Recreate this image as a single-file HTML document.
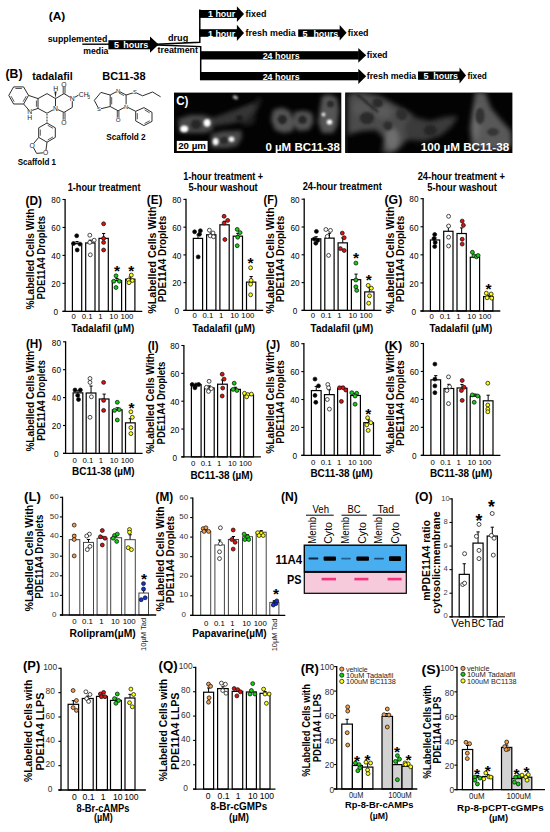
<!DOCTYPE html><html><head><meta charset="utf-8"><style>html,body{margin:0;padding:0;background:#fff;}svg{display:block;font-family:"Liberation Sans", sans-serif;}</style></head><body><svg width="550" height="832" viewBox="0 0 550 832"><rect width="550" height="832" fill="#fff"/><text x="48.70" y="19.60" font-size="11.5" font-weight="bold" fill="#000" textLength="16.60" lengthAdjust="spacingAndGlyphs">(A)</text>
<text x="47.70" y="41.90" font-size="9" font-weight="bold" fill="#000" textLength="59.70" lengthAdjust="spacingAndGlyphs">supplemented</text>
<text x="83.30" y="54.30" font-size="9" font-weight="bold" fill="#000" textLength="25.10" lengthAdjust="spacingAndGlyphs">media</text>
<line x1="82.30" y1="44.20" x2="109.00" y2="44.20" stroke="#000" stroke-width="1.4"/>
<rect x="108.40" y="40.20" width="42.10" height="9.10" fill="#000"/>
<polygon points="150.00,36.40 158.60,44.55 150.00,52.70" fill="#000"/>
<text x="114.00" y="48.20" font-size="9" font-weight="bold" fill="#fff" text-anchor="start">5</text>
<text x="123.20" y="48.20" font-size="9" font-weight="bold" fill="#fff" textLength="25.00" lengthAdjust="spacingAndGlyphs">hours</text>
<polyline points="156.5,44.3 199.8,42.3 199.8,9.5" fill="none" stroke="#000" stroke-width="1.5"/>
<polyline points="156.5,44.9 200.7,46.6 200.7,80.0" fill="none" stroke="#000" stroke-width="1.5"/>
<text x="168.00" y="40.90" font-size="9" font-weight="bold" fill="#000" textLength="20.20" lengthAdjust="spacingAndGlyphs">drug</text>
<text x="157.60" y="53.10" font-size="9" font-weight="bold" fill="#000" textLength="40.40" lengthAdjust="spacingAndGlyphs">treatment</text>
<rect x="199.20" y="10.00" width="38.20" height="7.90" fill="#000"/>
<polygon points="236.90,6.20 244.00,14.05 236.90,21.90" fill="#000"/>
<text x="208.00" y="17.40" font-size="9" font-weight="bold" fill="#fff" textLength="27.20" lengthAdjust="spacingAndGlyphs">1 hour</text>
<text x="245.60" y="17.00" font-size="9" font-weight="bold" fill="#000" textLength="20.80" lengthAdjust="spacingAndGlyphs">fixed</text>
<rect x="199.20" y="29.20" width="38.20" height="7.60" fill="#000"/>
<polygon points="236.90,24.80 244.00,32.95 236.90,41.10" fill="#000"/>
<text x="208.00" y="36.50" font-size="9" font-weight="bold" fill="#fff" textLength="27.20" lengthAdjust="spacingAndGlyphs">1 hour</text>
<text x="245.60" y="36.20" font-size="9" font-weight="bold" fill="#000" textLength="50.20" lengthAdjust="spacingAndGlyphs">fresh media</text>
<rect x="298.20" y="29.40" width="42.00" height="7.40" fill="#000"/>
<polygon points="339.70,25.10 346.60,32.75 339.70,40.40" fill="#000"/>
<text x="302.40" y="36.50" font-size="9" font-weight="bold" fill="#fff" text-anchor="start">5</text>
<text x="313.40" y="36.50" font-size="9" font-weight="bold" fill="#fff" textLength="24.80" lengthAdjust="spacingAndGlyphs">hours</text>
<text x="347.80" y="36.20" font-size="9" font-weight="bold" fill="#000" textLength="20.70" lengthAdjust="spacingAndGlyphs">fixed</text>
<rect x="200.00" y="51.20" width="158.80" height="8.30" fill="#000"/>
<polygon points="358.30,48.00 366.20,55.35 358.30,62.70" fill="#000"/>
<text x="262.70" y="58.70" font-size="9" font-weight="bold" fill="#fff" textLength="36.90" lengthAdjust="spacingAndGlyphs">24 hours</text>
<text x="366.70" y="58.40" font-size="9" font-weight="bold" fill="#000" textLength="20.90" lengthAdjust="spacingAndGlyphs">fixed</text>
<rect x="200.00" y="72.00" width="158.80" height="8.30" fill="#000"/>
<polygon points="358.30,68.70 366.20,76.35 358.30,84.00" fill="#000"/>
<text x="262.70" y="79.60" font-size="9" font-weight="bold" fill="#fff" textLength="36.90" lengthAdjust="spacingAndGlyphs">24 hours</text>
<text x="366.70" y="79.20" font-size="9" font-weight="bold" fill="#000" textLength="49.60" lengthAdjust="spacingAndGlyphs">fresh media</text>
<rect x="418.00" y="71.50" width="42.00" height="8.30" fill="#000"/>
<polygon points="459.50,67.50 466.00,75.50 459.50,83.50" fill="#000"/>
<text x="423.60" y="79.00" font-size="9" font-weight="bold" fill="#fff" text-anchor="start">5</text>
<text x="433.30" y="79.00" font-size="9" font-weight="bold" fill="#fff" textLength="24.70" lengthAdjust="spacingAndGlyphs">hours</text>
<text x="467.50" y="79.00" font-size="9" font-weight="bold" fill="#000" textLength="19.30" lengthAdjust="spacingAndGlyphs">fixed</text>
<text x="5.50" y="78.00" font-size="12" font-weight="bold" fill="#000" textLength="17.00" lengthAdjust="spacingAndGlyphs">(B)</text>
<text x="32.30" y="79.50" font-size="10.5" font-weight="bold" fill="#000" textLength="40.40" lengthAdjust="spacingAndGlyphs">tadalafil</text>
<text x="102.20" y="80.00" font-size="10.5" font-weight="bold" fill="#000" textLength="43.40" lengthAdjust="spacingAndGlyphs">BC11-38</text>
<text x="17.70" y="165.30" font-size="9" font-weight="bold" fill="#000" textLength="38.30" lengthAdjust="spacingAndGlyphs">Scaffold 1</text>
<text x="106.30" y="140.40" font-size="8.8" font-weight="bold" fill="#000" textLength="39.30" lengthAdjust="spacingAndGlyphs">Scaffold 2</text>
<line x1="13.60" y1="86.90" x2="23.60" y2="86.90" stroke="#222222" stroke-width="0.95"/>
<line x1="23.60" y1="86.90" x2="28.50" y2="95.40" stroke="#222222" stroke-width="0.95"/>
<line x1="28.50" y1="95.40" x2="23.60" y2="104.00" stroke="#222222" stroke-width="0.95"/>
<line x1="23.60" y1="104.00" x2="13.60" y2="104.00" stroke="#222222" stroke-width="0.95"/>
<line x1="13.60" y1="104.00" x2="8.80" y2="95.40" stroke="#222222" stroke-width="0.95"/>
<line x1="8.80" y1="95.40" x2="13.60" y2="86.90" stroke="#222222" stroke-width="0.95"/>
<line x1="15.40" y1="88.50" x2="21.80" y2="88.50" stroke="#222222" stroke-width="0.75"/>
<line x1="26.23" y1="96.15" x2="23.10" y2="101.65" stroke="#222222" stroke-width="0.75"/>
<line x1="14.12" y1="101.65" x2="11.05" y2="96.14" stroke="#222222" stroke-width="0.75"/>
<line x1="28.50" y1="95.40" x2="38.00" y2="98.60" stroke="#222222" stroke-width="0.95"/>
<line x1="38.00" y1="98.60" x2="38.00" y2="108.40" stroke="#222222" stroke-width="0.95"/>
<line x1="38.00" y1="108.40" x2="29.80" y2="111.20" stroke="#222222" stroke-width="0.95"/>
<line x1="29.80" y1="111.20" x2="23.60" y2="104.00" stroke="#222222" stroke-width="0.95"/>
<line x1="36.41" y1="100.52" x2="36.41" y2="106.80" stroke="#222222" stroke-width="0.75"/>
<line x1="38.00" y1="98.60" x2="47.00" y2="93.60" stroke="#222222" stroke-width="0.95"/>
<line x1="47.00" y1="93.60" x2="55.50" y2="98.60" stroke="#222222" stroke-width="0.95"/>
<line x1="55.50" y1="98.60" x2="55.50" y2="108.50" stroke="#222222" stroke-width="0.95"/>
<line x1="55.50" y1="108.50" x2="47.00" y2="113.20" stroke="#222222" stroke-width="0.95"/>
<line x1="47.00" y1="113.20" x2="38.00" y2="108.40" stroke="#222222" stroke-width="0.95"/>
<polygon points="55.50,98.60 54.40,91.50 56.60,91.50" fill="#222222"/>
<line x1="55.50" y1="98.60" x2="64.00" y2="93.60" stroke="#222222" stroke-width="0.95"/>
<line x1="64.00" y1="93.60" x2="72.30" y2="98.60" stroke="#222222" stroke-width="0.95"/>
<line x1="72.30" y1="98.60" x2="72.30" y2="107.40" stroke="#222222" stroke-width="0.95"/>
<line x1="72.30" y1="107.40" x2="64.00" y2="112.40" stroke="#222222" stroke-width="0.95"/>
<line x1="64.00" y1="112.40" x2="55.50" y2="108.50" stroke="#222222" stroke-width="0.95"/>
<line x1="63.20" y1="93.60" x2="63.20" y2="85.50" stroke="#222222" stroke-width="0.85"/>
<line x1="65.00" y1="93.60" x2="65.00" y2="85.50" stroke="#222222" stroke-width="0.85"/>
<line x1="63.20" y1="112.40" x2="63.20" y2="120.50" stroke="#222222" stroke-width="0.85"/>
<line x1="65.00" y1="112.40" x2="65.00" y2="120.50" stroke="#222222" stroke-width="0.85"/>
<line x1="72.30" y1="98.60" x2="78.50" y2="95.20" stroke="#222222" stroke-width="0.95"/>
<line x1="46.30" y1="114.50" x2="47.70" y2="114.50" stroke="#222222" stroke-width="0.7"/>
<line x1="46.30" y1="116.00" x2="47.70" y2="116.00" stroke="#222222" stroke-width="0.7"/>
<line x1="46.30" y1="117.50" x2="47.70" y2="117.50" stroke="#222222" stroke-width="0.7"/>
<line x1="46.30" y1="119.00" x2="47.70" y2="119.00" stroke="#222222" stroke-width="0.7"/>
<line x1="46.30" y1="120.50" x2="47.70" y2="120.50" stroke="#222222" stroke-width="0.7"/>
<line x1="46.30" y1="122.00" x2="47.70" y2="122.00" stroke="#222222" stroke-width="0.7"/>
<line x1="47.00" y1="123.00" x2="55.30" y2="127.80" stroke="#222222" stroke-width="0.95"/>
<line x1="55.30" y1="127.80" x2="55.30" y2="137.40" stroke="#222222" stroke-width="0.95"/>
<line x1="55.30" y1="137.40" x2="47.00" y2="142.20" stroke="#222222" stroke-width="0.95"/>
<line x1="47.00" y1="142.20" x2="38.70" y2="137.40" stroke="#222222" stroke-width="0.95"/>
<line x1="38.70" y1="137.40" x2="38.70" y2="127.80" stroke="#222222" stroke-width="0.95"/>
<line x1="38.70" y1="127.80" x2="47.00" y2="123.00" stroke="#222222" stroke-width="0.95"/>
<line x1="47.69" y1="125.25" x2="53.01" y2="128.32" stroke="#222222" stroke-width="0.75"/>
<line x1="53.01" y1="136.88" x2="47.69" y2="139.95" stroke="#222222" stroke-width="0.75"/>
<line x1="40.30" y1="135.67" x2="40.30" y2="129.53" stroke="#222222" stroke-width="0.75"/>
<line x1="38.70" y1="137.40" x2="32.20" y2="145.20" stroke="#222222" stroke-width="0.95"/>
<line x1="47.00" y1="142.20" x2="45.60" y2="152.60" stroke="#222222" stroke-width="0.95"/>
<line x1="32.20" y1="145.20" x2="36.60" y2="153.40" stroke="#222222" stroke-width="0.95"/>
<line x1="36.60" y1="153.40" x2="45.60" y2="152.60" stroke="#222222" stroke-width="0.95"/>
<circle cx="29.80" cy="111.40" r="2.6" fill="#fff"/>
<text x="29.80" y="113.85" font-size="6.8" fill="#222222" text-anchor="middle">N</text>
<text x="29.6" y="120.0" font-size="6.8" fill="#222222" text-anchor="middle">H</text>
<circle cx="55.50" cy="108.60" r="2.6" fill="#fff"/>
<text x="55.50" y="111.05" font-size="6.8" fill="#222222" text-anchor="middle">N</text>
<circle cx="72.30" cy="98.60" r="2.6" fill="#fff"/>
<text x="72.30" y="101.05" font-size="6.8" fill="#222222" text-anchor="middle">N</text>
<text x="55.8" y="91.0" font-size="6.8" fill="#222222" text-anchor="middle">H</text>
<circle cx="64.00" cy="84.20" r="2.6" fill="#fff"/>
<text x="64.00" y="86.65" font-size="6.8" fill="#222222" text-anchor="middle">O</text>
<circle cx="64.00" cy="122.20" r="2.6" fill="#fff"/>
<text x="64.00" y="124.65" font-size="6.8" fill="#222222" text-anchor="middle">O</text>
<circle cx="32.20" cy="145.20" r="2.6" fill="#fff"/>
<text x="32.20" y="147.65" font-size="6.8" fill="#222222" text-anchor="middle">O</text>
<circle cx="45.60" cy="152.60" r="2.6" fill="#fff"/>
<text x="45.60" y="155.05" font-size="6.8" fill="#222222" text-anchor="middle">O</text>
<text x="78.8" y="97.2" font-size="6.8" fill="#222222">CH</text>
<text x="87.6" y="99.0" font-size="4.6" fill="#222222">3</text>
<line x1="100.90" y1="92.40" x2="94.30" y2="100.40" stroke="#222222" stroke-width="0.95"/>
<line x1="94.30" y1="100.40" x2="99.00" y2="109.20" stroke="#222222" stroke-width="0.95"/>
<line x1="99.00" y1="109.20" x2="110.20" y2="106.50" stroke="#222222" stroke-width="0.95"/>
<line x1="110.20" y1="106.50" x2="110.20" y2="95.00" stroke="#222222" stroke-width="0.95"/>
<line x1="110.20" y1="95.00" x2="100.90" y2="92.40" stroke="#222222" stroke-width="0.95"/>
<line x1="111.70" y1="97.08" x2="111.70" y2="104.44" stroke="#222222" stroke-width="0.75"/>
<line x1="110.20" y1="95.00" x2="118.10" y2="90.80" stroke="#222222" stroke-width="0.95"/>
<line x1="118.10" y1="90.80" x2="126.10" y2="95.00" stroke="#222222" stroke-width="0.95"/>
<line x1="126.10" y1="95.00" x2="126.10" y2="106.50" stroke="#222222" stroke-width="0.95"/>
<line x1="126.10" y1="106.50" x2="118.10" y2="110.80" stroke="#222222" stroke-width="0.95"/>
<line x1="118.10" y1="110.80" x2="110.20" y2="106.50" stroke="#222222" stroke-width="0.95"/>
<line x1="118.86" y1="92.89" x2="123.98" y2="95.58" stroke="#222222" stroke-width="0.75"/>
<line x1="117.30" y1="110.80" x2="117.30" y2="118.00" stroke="#222222" stroke-width="0.85"/>
<line x1="118.90" y1="110.80" x2="118.90" y2="118.00" stroke="#222222" stroke-width="0.85"/>
<line x1="126.10" y1="95.00" x2="135.00" y2="92.30" stroke="#222222" stroke-width="0.95"/>
<line x1="135.00" y1="92.30" x2="142.60" y2="95.80" stroke="#222222" stroke-width="0.95"/>
<line x1="142.60" y1="95.80" x2="152.60" y2="92.00" stroke="#222222" stroke-width="0.95"/>
<line x1="152.60" y1="92.00" x2="160.60" y2="96.80" stroke="#222222" stroke-width="0.95"/>
<line x1="126.10" y1="106.50" x2="135.70" y2="111.30" stroke="#222222" stroke-width="0.95"/>
<line x1="135.70" y1="111.30" x2="144.00" y2="107.60" stroke="#222222" stroke-width="0.95"/>
<line x1="144.00" y1="107.60" x2="152.00" y2="112.40" stroke="#222222" stroke-width="0.95"/>
<line x1="152.00" y1="112.40" x2="152.00" y2="121.40" stroke="#222222" stroke-width="0.95"/>
<line x1="152.00" y1="121.40" x2="143.90" y2="125.60" stroke="#222222" stroke-width="0.95"/>
<line x1="143.90" y1="125.60" x2="135.70" y2="120.90" stroke="#222222" stroke-width="0.95"/>
<line x1="135.70" y1="120.90" x2="135.70" y2="111.30" stroke="#222222" stroke-width="0.95"/>
<line x1="144.59" y1="109.82" x2="149.71" y2="112.89" stroke="#222222" stroke-width="0.75"/>
<line x1="149.74" y1="120.77" x2="144.56" y2="123.46" stroke="#222222" stroke-width="0.75"/>
<line x1="137.30" y1="119.25" x2="137.30" y2="113.11" stroke="#222222" stroke-width="0.75"/>
<circle cx="118.10" cy="90.80" r="2.2" fill="#fff"/>
<text x="118.10" y="92.89" font-size="5.8" fill="#222222" text-anchor="middle">N</text>
<circle cx="126.10" cy="106.50" r="2.2" fill="#fff"/>
<text x="126.10" y="108.59" font-size="5.8" fill="#222222" text-anchor="middle">N</text>
<circle cx="99.00" cy="109.20" r="2.2" fill="#fff"/>
<text x="99.00" y="111.29" font-size="5.8" fill="#222222" text-anchor="middle">S</text>
<circle cx="135.00" cy="92.30" r="2.2" fill="#fff"/>
<text x="135.00" y="94.39" font-size="5.8" fill="#222222" text-anchor="middle">S</text>
<circle cx="118.10" cy="119.80" r="2.3" fill="#fff"/>
<text x="118.10" y="122.03" font-size="6.2" fill="#222222" text-anchor="middle">O</text>
<defs><clipPath id="c1"><rect x="174.0" y="92.6" width="167.3" height="60.4"/></clipPath><clipPath id="c2"><rect x="345.2" y="92.6" width="167.2" height="60.4"/></clipPath><filter id="b4" x="-50%" y="-50%" width="200%" height="200%"><feGaussianBlur stdDeviation="2.6"/></filter><filter id="b3" x="-50%" y="-50%" width="200%" height="200%"><feGaussianBlur stdDeviation="2.1"/></filter><filter id="b2" x="-50%" y="-50%" width="200%" height="200%"><feGaussianBlur stdDeviation="1.3"/></filter><filter id="b1" x="-50%" y="-50%" width="200%" height="200%"><feGaussianBlur stdDeviation="0.9"/></filter></defs>
<rect x="174.00" y="92.60" width="167.30" height="60.40" fill="#030303"/>
<rect x="345.20" y="92.60" width="167.20" height="60.40" fill="#030303"/>
<g clip-path="url(#c1)">
<g filter="url(#b4)">
<polygon points="240,110 252,104 259,97 262,100 256,112 254,124 244,126 240,120" fill="#202020"/>
</g>
<g filter="url(#b3)">
<polygon points="178,119 190,115 204,115 213,118 213,130 205,133 190,133 179,132" fill="#4a4a4a"/>
<polygon points="212,118 226,113 240,108 252,104 257,106 252,114 244,121 230,124 214,126" fill="#353535"/>
<polygon points="211,134 224,131 236,131 241,130 242,137 237,146 226,148 211,148" fill="#4c4c4c"/>
<polygon points="273,110 282,107.5 290,111 294,122 293,131 284,133 275,130 271,120" fill="#555555"/>
<polygon points="294,112 304,110.5 312,113 313.5,122 309,130 298,131 293,124" fill="#525252"/>
<polygon points="322,96 330,94.5 337,98 339,110 337,126 333,133 322,133 318,122 320,108" fill="#555555"/>
</g>
<g filter="url(#b2)">
<ellipse cx="282.3" cy="119.6" rx="4.6" ry="4.6" fill="#262626"/>
<ellipse cx="302.5" cy="119.8" rx="4.2" ry="4.0" fill="#262626"/>
<ellipse cx="330.5" cy="104" rx="3.5" ry="3.5" fill="#2a2a2a"/>
<ellipse cx="196" cy="124.5" rx="5" ry="5" fill="#262626"/>
<ellipse cx="239.6" cy="118.3" rx="3.5" ry="3" fill="#1c1c1c"/>
<ellipse cx="224" cy="140.5" rx="4" ry="3.5" fill="#2a2a2a"/>
</g>
<g filter="url(#b1)">
<ellipse cx="184.2" cy="128.9" rx="4.0" ry="3.4" fill="#ffffff"/>
<ellipse cx="207.1" cy="122.8" rx="3.5" ry="3.9" fill="#ffffff"/>
<ellipse cx="215.6" cy="141.6" rx="3.0" ry="3.7" fill="#f6f6f6"/>
<ellipse cx="231.5" cy="139.3" rx="2.9" ry="2.7" fill="#f0f0f0"/>
<ellipse cx="235.4" cy="97.4" rx="2.8" ry="1.9" fill="#b0b0b0" transform="rotate(25 235.4 97.4)"/>
<ellipse cx="323.5" cy="114.5" rx="1.9" ry="1.9" fill="#e8e8e8"/>
<ellipse cx="329.5" cy="122.0" rx="2.8" ry="2.6" fill="#ffffff"/>
</g>
</g>
<text x="176.20" y="105.20" font-size="13" font-weight="bold" fill="#fff" textLength="12.20" lengthAdjust="spacingAndGlyphs">C)</text>
<rect x="176.80" y="140.90" width="30.80" height="10.10" fill="#fff"/>
<text x="178.20" y="149.30" font-size="9.5" font-weight="bold" fill="#000" textLength="27.80" lengthAdjust="spacingAndGlyphs">20 µm</text>
<text x="265.40" y="150.50" font-size="11" font-weight="bold" fill="#fff" textLength="74.40" lengthAdjust="spacingAndGlyphs">0 µM BC11-38</text>
<g clip-path="url(#c2)">
<g filter="url(#b4)">
<polygon points="345,100 352,93 362,92 380,96 396,105 412,114 418,122 412,134 398,150 390,154 382,152 384,138 376,130 362,131 350,134 345,130" fill="#4c4c4c"/>
<polygon points="410,116 430,121 445,117 458,116 452,126 440,136 425,141 408,140 404,128" fill="#3a3a3a"/>
<polygon points="475,92 485,92 491,108 501,120 511,131 512,146 500,150 472,148 470,128 473,108" fill="#585858"/>
<ellipse cx="392" cy="139" rx="7" ry="11" fill="#6e6e6e"/>
<ellipse cx="383" cy="112" rx="9" ry="7" fill="#5a5a5a"/>
<ellipse cx="362" cy="108" rx="10" ry="8" fill="#555555"/>
<ellipse cx="476" cy="122" rx="4" ry="18" fill="#6a6a6a"/>
<rect x="345" y="92" width="4" height="62" fill="#111"/>
</g>
<g filter="url(#b2)">
<polyline points="357,94 366,102 378,112" fill="none" stroke="#222" stroke-width="2"/>
<ellipse cx="366.9" cy="118.1" rx="7.2" ry="6.2" fill="#2c2c2c"/>
<ellipse cx="377.7" cy="102.8" rx="5.4" ry="4.8" fill="#2c2c2c"/>
<ellipse cx="387.9" cy="125.7" rx="4.5" ry="4.5" fill="#2e2e2e"/>
<ellipse cx="401.9" cy="114.3" rx="5.8" ry="6.1" fill="#2e2e2e"/>
<ellipse cx="430.4" cy="130.2" rx="6.6" ry="5.3" fill="#262626"/>
<ellipse cx="480.0" cy="116.0" rx="4.6" ry="8.3" fill="#303030"/>
<ellipse cx="493.0" cy="132.0" rx="5.8" ry="4.0" fill="#363636"/>
</g>
</g>
<text x="420.80" y="150.50" font-size="11" font-weight="bold" fill="#fff" textLength="88.40" lengthAdjust="spacingAndGlyphs">100 µM BC11-38</text>
<line x1="77.05" y1="243.66" x2="77.05" y2="241.56" stroke="#000" stroke-width="1.0"/>
<line x1="75.45" y1="241.56" x2="78.65" y2="241.56" stroke="#000" stroke-width="1.0"/>
<rect x="72.40" y="243.66" width="9.30" height="67.64" fill="#fff" stroke="#000" stroke-width="1.2"/>
<line x1="90.35" y1="242.96" x2="90.35" y2="240.17" stroke="#000" stroke-width="1.0"/>
<line x1="88.75" y1="240.17" x2="91.95" y2="240.17" stroke="#000" stroke-width="1.0"/>
<rect x="85.70" y="242.96" width="9.30" height="68.34" fill="#fff" stroke="#000" stroke-width="1.2"/>
<line x1="103.65" y1="238.35" x2="103.65" y2="233.46" stroke="#000" stroke-width="1.0"/>
<line x1="102.05" y1="233.46" x2="105.25" y2="233.46" stroke="#000" stroke-width="1.0"/>
<rect x="99.00" y="238.35" width="9.30" height="72.95" fill="#fff" stroke="#000" stroke-width="1.2"/>
<line x1="116.95" y1="280.56" x2="116.95" y2="278.46" stroke="#000" stroke-width="1.0"/>
<line x1="115.35" y1="278.46" x2="118.55" y2="278.46" stroke="#000" stroke-width="1.0"/>
<rect x="112.30" y="280.56" width="9.30" height="30.75" fill="#fff" stroke="#000" stroke-width="1.2"/>
<line x1="130.25" y1="279.16" x2="130.25" y2="276.92" stroke="#000" stroke-width="1.0"/>
<line x1="128.65" y1="276.92" x2="131.85" y2="276.92" stroke="#000" stroke-width="1.0"/>
<rect x="125.60" y="279.16" width="9.30" height="32.14" fill="#fff" stroke="#000" stroke-width="1.2"/>
<line x1="65.10" y1="198.90" x2="65.10" y2="311.90" stroke="#000" stroke-width="1.3"/>
<line x1="62.50" y1="311.30" x2="142.30" y2="311.30" stroke="#000" stroke-width="1.3"/>
<line x1="62.50" y1="311.30" x2="65.10" y2="311.30" stroke="#000" stroke-width="1.1"/>
<text x="55.90" y="315.07" font-size="8.2" font-weight="normal" fill="#000" text-anchor="middle">0</text>
<line x1="62.50" y1="283.35" x2="65.10" y2="283.35" stroke="#000" stroke-width="1.1"/>
<text x="55.90" y="287.12" font-size="8.2" font-weight="normal" fill="#000" text-anchor="middle">20</text>
<line x1="62.50" y1="255.40" x2="65.10" y2="255.40" stroke="#000" stroke-width="1.1"/>
<text x="55.90" y="259.17" font-size="8.2" font-weight="normal" fill="#000" text-anchor="middle">40</text>
<line x1="62.50" y1="227.45" x2="65.10" y2="227.45" stroke="#000" stroke-width="1.1"/>
<text x="55.90" y="231.22" font-size="8.2" font-weight="normal" fill="#000" text-anchor="middle">60</text>
<line x1="62.50" y1="199.50" x2="65.10" y2="199.50" stroke="#000" stroke-width="1.1"/>
<text x="55.90" y="203.27" font-size="8.2" font-weight="normal" fill="#000" text-anchor="middle">80</text>
<circle cx="76.70" cy="235.80" r="1.95" fill="#000000" stroke="#111" stroke-width="0.75"/>
<circle cx="73.50" cy="243.50" r="1.95" fill="#000000" stroke="#111" stroke-width="0.75"/>
<circle cx="80.00" cy="244.10" r="1.95" fill="#000000" stroke="#111" stroke-width="0.75"/>
<circle cx="77.20" cy="250.00" r="1.95" fill="#000000" stroke="#111" stroke-width="0.75"/>
<circle cx="89.80" cy="235.20" r="1.95" fill="#ffffff" stroke="#111" stroke-width="0.75"/>
<circle cx="94.20" cy="240.20" r="1.95" fill="#ffffff" stroke="#111" stroke-width="0.75"/>
<circle cx="89.80" cy="242.40" r="1.95" fill="#ffffff" stroke="#111" stroke-width="0.75"/>
<circle cx="90.30" cy="254.80" r="1.95" fill="#ffffff" stroke="#111" stroke-width="0.75"/>
<circle cx="103.60" cy="223.80" r="1.95" fill="#e01010" stroke="#111" stroke-width="0.75"/>
<circle cx="103.60" cy="238.40" r="1.95" fill="#e01010" stroke="#111" stroke-width="0.75"/>
<circle cx="103.60" cy="242.40" r="1.95" fill="#e01010" stroke="#111" stroke-width="0.75"/>
<circle cx="103.60" cy="250.00" r="1.95" fill="#e01010" stroke="#111" stroke-width="0.75"/>
<circle cx="116.00" cy="275.80" r="1.95" fill="#10d010" stroke="#111" stroke-width="0.75"/>
<circle cx="113.80" cy="281.20" r="1.95" fill="#10d010" stroke="#111" stroke-width="0.75"/>
<circle cx="119.30" cy="281.20" r="1.95" fill="#10d010" stroke="#111" stroke-width="0.75"/>
<circle cx="116.00" cy="287.50" r="1.95" fill="#10d010" stroke="#111" stroke-width="0.75"/>
<circle cx="131.30" cy="275.10" r="1.95" fill="#ffff10" stroke="#111" stroke-width="0.75"/>
<circle cx="128.40" cy="280.10" r="1.95" fill="#ffff10" stroke="#111" stroke-width="0.75"/>
<circle cx="132.40" cy="280.50" r="1.95" fill="#ffff10" stroke="#111" stroke-width="0.75"/>
<circle cx="129.00" cy="282.70" r="1.95" fill="#ffff10" stroke="#111" stroke-width="0.75"/>
<text x="117.10" y="276.16" font-size="15.5" font-weight="bold" text-anchor="middle" fill="#000">*</text>
<text x="131.30" y="275.56" font-size="15.5" font-weight="bold" text-anchor="middle" fill="#000">*</text>
<text x="73.75" y="319.30" font-size="7.8" fill="#000" text-anchor="middle">0</text>
<text x="87.05" y="319.30" font-size="7.8" fill="#000" text-anchor="middle">0.1</text>
<text x="100.35" y="319.30" font-size="7.8" fill="#000" text-anchor="middle">1</text>
<text x="113.65" y="319.30" font-size="7.8" fill="#000" text-anchor="middle">10</text>
<text x="126.95" y="319.30" font-size="7.8" fill="#000" text-anchor="middle">100</text>
<text x="71.50" y="332.20" font-size="10" font-weight="bold" fill="#000" textLength="62.70" lengthAdjust="spacingAndGlyphs">Tadalafil (µM)</text>
<text transform="translate(34.30,309.50) rotate(-90)" x="0" y="0" font-size="10.3" font-weight="bold" fill="#000" textLength="100.90" lengthAdjust="spacingAndGlyphs">%Labelled Cells With</text>
<text transform="translate(45.00,299.40) rotate(-90)" x="0" y="0" font-size="10.3" font-weight="bold" fill="#000" textLength="83.60" lengthAdjust="spacingAndGlyphs">PDE11A4 Droplets</text>
<line x1="197.95" y1="238.39" x2="197.95" y2="234.92" stroke="#000" stroke-width="1.0"/>
<line x1="196.35" y1="234.92" x2="199.55" y2="234.92" stroke="#000" stroke-width="1.0"/>
<rect x="193.30" y="238.39" width="9.30" height="72.01" fill="#fff" stroke="#000" stroke-width="1.2"/>
<line x1="211.25" y1="234.78" x2="211.25" y2="233.12" stroke="#000" stroke-width="1.0"/>
<line x1="209.65" y1="233.12" x2="212.85" y2="233.12" stroke="#000" stroke-width="1.0"/>
<rect x="206.60" y="234.78" width="9.30" height="75.62" fill="#fff" stroke="#000" stroke-width="1.2"/>
<line x1="224.55" y1="224.79" x2="224.55" y2="221.32" stroke="#000" stroke-width="1.0"/>
<line x1="222.95" y1="221.32" x2="226.15" y2="221.32" stroke="#000" stroke-width="1.0"/>
<rect x="219.90" y="224.79" width="9.30" height="85.61" fill="#fff" stroke="#000" stroke-width="1.2"/>
<line x1="237.85" y1="236.17" x2="237.85" y2="233.39" stroke="#000" stroke-width="1.0"/>
<line x1="236.25" y1="233.39" x2="239.45" y2="233.39" stroke="#000" stroke-width="1.0"/>
<rect x="233.20" y="236.17" width="9.30" height="74.23" fill="#fff" stroke="#000" stroke-width="1.2"/>
<line x1="251.15" y1="282.09" x2="251.15" y2="276.54" stroke="#000" stroke-width="1.0"/>
<line x1="249.55" y1="276.54" x2="252.75" y2="276.54" stroke="#000" stroke-width="1.0"/>
<rect x="246.50" y="282.09" width="9.30" height="28.31" fill="#fff" stroke="#000" stroke-width="1.2"/>
<line x1="186.00" y1="198.80" x2="186.00" y2="311.00" stroke="#000" stroke-width="1.3"/>
<line x1="183.40" y1="310.40" x2="263.20" y2="310.40" stroke="#000" stroke-width="1.3"/>
<line x1="183.40" y1="310.40" x2="186.00" y2="310.40" stroke="#000" stroke-width="1.1"/>
<text x="176.80" y="314.17" font-size="8.2" font-weight="normal" fill="#000" text-anchor="middle">0</text>
<line x1="183.40" y1="282.65" x2="186.00" y2="282.65" stroke="#000" stroke-width="1.1"/>
<text x="176.80" y="286.42" font-size="8.2" font-weight="normal" fill="#000" text-anchor="middle">20</text>
<line x1="183.40" y1="254.90" x2="186.00" y2="254.90" stroke="#000" stroke-width="1.1"/>
<text x="176.80" y="258.67" font-size="8.2" font-weight="normal" fill="#000" text-anchor="middle">40</text>
<line x1="183.40" y1="227.15" x2="186.00" y2="227.15" stroke="#000" stroke-width="1.1"/>
<text x="176.80" y="230.92" font-size="8.2" font-weight="normal" fill="#000" text-anchor="middle">60</text>
<line x1="183.40" y1="199.40" x2="186.00" y2="199.40" stroke="#000" stroke-width="1.1"/>
<text x="176.80" y="203.17" font-size="8.2" font-weight="normal" fill="#000" text-anchor="middle">80</text>
<circle cx="194.60" cy="231.80" r="1.95" fill="#000000" stroke="#111" stroke-width="0.75"/>
<circle cx="200.40" cy="230.70" r="1.95" fill="#000000" stroke="#111" stroke-width="0.75"/>
<circle cx="199.50" cy="234.30" r="1.95" fill="#000000" stroke="#111" stroke-width="0.75"/>
<circle cx="198.20" cy="256.90" r="1.95" fill="#000000" stroke="#111" stroke-width="0.75"/>
<circle cx="209.40" cy="230.20" r="1.95" fill="#ffffff" stroke="#111" stroke-width="0.75"/>
<circle cx="213.00" cy="233.00" r="1.95" fill="#ffffff" stroke="#111" stroke-width="0.75"/>
<circle cx="210.20" cy="235.90" r="1.95" fill="#ffffff" stroke="#111" stroke-width="0.75"/>
<circle cx="213.50" cy="236.70" r="1.95" fill="#ffffff" stroke="#111" stroke-width="0.75"/>
<circle cx="224.10" cy="216.30" r="1.95" fill="#e01010" stroke="#111" stroke-width="0.75"/>
<circle cx="227.70" cy="220.40" r="1.95" fill="#e01010" stroke="#111" stroke-width="0.75"/>
<circle cx="224.10" cy="223.10" r="1.95" fill="#e01010" stroke="#111" stroke-width="0.75"/>
<circle cx="224.90" cy="239.50" r="1.95" fill="#e01010" stroke="#111" stroke-width="0.75"/>
<circle cx="237.20" cy="229.40" r="1.95" fill="#10d010" stroke="#111" stroke-width="0.75"/>
<circle cx="240.10" cy="232.60" r="1.95" fill="#10d010" stroke="#111" stroke-width="0.75"/>
<circle cx="237.70" cy="237.20" r="1.95" fill="#10d010" stroke="#111" stroke-width="0.75"/>
<circle cx="237.20" cy="245.70" r="1.95" fill="#10d010" stroke="#111" stroke-width="0.75"/>
<circle cx="250.60" cy="267.80" r="1.95" fill="#ffff10" stroke="#111" stroke-width="0.75"/>
<circle cx="251.10" cy="280.40" r="1.95" fill="#ffff10" stroke="#111" stroke-width="0.75"/>
<circle cx="250.60" cy="284.20" r="1.95" fill="#ffff10" stroke="#111" stroke-width="0.75"/>
<circle cx="250.60" cy="294.80" r="1.95" fill="#ffff10" stroke="#111" stroke-width="0.75"/>
<text x="250.60" y="268.16" font-size="15.5" font-weight="bold" text-anchor="middle" fill="#000">*</text>
<text x="194.65" y="318.40" font-size="7.8" fill="#000" text-anchor="middle">0</text>
<text x="207.95" y="318.40" font-size="7.8" fill="#000" text-anchor="middle">0.1</text>
<text x="221.25" y="318.40" font-size="7.8" fill="#000" text-anchor="middle">1</text>
<text x="234.55" y="318.40" font-size="7.8" fill="#000" text-anchor="middle">10</text>
<text x="247.85" y="318.40" font-size="7.8" fill="#000" text-anchor="middle">100</text>
<text x="192.40" y="332.20" font-size="10" font-weight="bold" fill="#000" textLength="62.70" lengthAdjust="spacingAndGlyphs">Tadalafil (µM)</text>
<text transform="translate(155.50,313.80) rotate(-90)" x="0" y="0" font-size="10.3" font-weight="bold" fill="#000" textLength="107.30" lengthAdjust="spacingAndGlyphs">%Labelled Cells With</text>
<text transform="translate(165.80,302.30) rotate(-90)" x="0" y="0" font-size="10.3" font-weight="bold" fill="#000" textLength="86.50" lengthAdjust="spacingAndGlyphs">PDE11A4 Droplets</text>
<line x1="316.15" y1="238.81" x2="316.15" y2="236.73" stroke="#000" stroke-width="1.0"/>
<line x1="314.55" y1="236.73" x2="317.75" y2="236.73" stroke="#000" stroke-width="1.0"/>
<rect x="311.50" y="238.81" width="9.30" height="71.58" fill="#fff" stroke="#000" stroke-width="1.2"/>
<line x1="329.45" y1="238.12" x2="329.45" y2="233.25" stroke="#000" stroke-width="1.0"/>
<line x1="327.85" y1="233.25" x2="331.05" y2="233.25" stroke="#000" stroke-width="1.0"/>
<rect x="324.80" y="238.12" width="9.30" height="72.28" fill="#fff" stroke="#000" stroke-width="1.2"/>
<line x1="342.75" y1="242.85" x2="342.75" y2="237.98" stroke="#000" stroke-width="1.0"/>
<line x1="341.15" y1="237.98" x2="344.35" y2="237.98" stroke="#000" stroke-width="1.0"/>
<rect x="338.10" y="242.85" width="9.30" height="67.55" fill="#fff" stroke="#000" stroke-width="1.2"/>
<line x1="356.05" y1="279.68" x2="356.05" y2="274.12" stroke="#000" stroke-width="1.0"/>
<line x1="354.45" y1="274.12" x2="357.65" y2="274.12" stroke="#000" stroke-width="1.0"/>
<rect x="351.40" y="279.68" width="9.30" height="30.72" fill="#fff" stroke="#000" stroke-width="1.2"/>
<line x1="369.35" y1="291.91" x2="369.35" y2="287.74" stroke="#000" stroke-width="1.0"/>
<line x1="367.75" y1="287.74" x2="370.95" y2="287.74" stroke="#000" stroke-width="1.0"/>
<rect x="364.70" y="291.91" width="9.30" height="18.49" fill="#fff" stroke="#000" stroke-width="1.2"/>
<line x1="304.20" y1="198.60" x2="304.20" y2="311.00" stroke="#000" stroke-width="1.3"/>
<line x1="301.60" y1="310.40" x2="381.40" y2="310.40" stroke="#000" stroke-width="1.3"/>
<line x1="301.60" y1="310.40" x2="304.20" y2="310.40" stroke="#000" stroke-width="1.1"/>
<text x="295.00" y="314.17" font-size="8.2" font-weight="normal" fill="#000" text-anchor="middle">0</text>
<line x1="301.60" y1="282.60" x2="304.20" y2="282.60" stroke="#000" stroke-width="1.1"/>
<text x="295.00" y="286.37" font-size="8.2" font-weight="normal" fill="#000" text-anchor="middle">20</text>
<line x1="301.60" y1="254.80" x2="304.20" y2="254.80" stroke="#000" stroke-width="1.1"/>
<text x="295.00" y="258.57" font-size="8.2" font-weight="normal" fill="#000" text-anchor="middle">40</text>
<line x1="301.60" y1="227.00" x2="304.20" y2="227.00" stroke="#000" stroke-width="1.1"/>
<text x="295.00" y="230.77" font-size="8.2" font-weight="normal" fill="#000" text-anchor="middle">60</text>
<line x1="301.60" y1="199.20" x2="304.20" y2="199.20" stroke="#000" stroke-width="1.1"/>
<text x="295.00" y="202.97" font-size="8.2" font-weight="normal" fill="#000" text-anchor="middle">80</text>
<circle cx="316.40" cy="231.40" r="1.95" fill="#000000" stroke="#111" stroke-width="0.75"/>
<circle cx="314.20" cy="239.10" r="1.95" fill="#000000" stroke="#111" stroke-width="0.75"/>
<circle cx="317.70" cy="240.40" r="1.95" fill="#000000" stroke="#111" stroke-width="0.75"/>
<circle cx="315.80" cy="243.20" r="1.95" fill="#000000" stroke="#111" stroke-width="0.75"/>
<circle cx="325.90" cy="229.50" r="1.95" fill="#ffffff" stroke="#111" stroke-width="0.75"/>
<circle cx="330.50" cy="230.40" r="1.95" fill="#ffffff" stroke="#111" stroke-width="0.75"/>
<circle cx="327.30" cy="236.40" r="1.95" fill="#ffffff" stroke="#111" stroke-width="0.75"/>
<circle cx="328.60" cy="255.40" r="1.95" fill="#ffffff" stroke="#111" stroke-width="0.75"/>
<circle cx="342.30" cy="233.10" r="1.95" fill="#e01010" stroke="#111" stroke-width="0.75"/>
<circle cx="344.20" cy="237.70" r="1.95" fill="#e01010" stroke="#111" stroke-width="0.75"/>
<circle cx="340.40" cy="248.60" r="1.95" fill="#e01010" stroke="#111" stroke-width="0.75"/>
<circle cx="344.20" cy="250.50" r="1.95" fill="#e01010" stroke="#111" stroke-width="0.75"/>
<circle cx="355.90" cy="263.10" r="1.95" fill="#10d010" stroke="#111" stroke-width="0.75"/>
<circle cx="355.90" cy="280.00" r="1.95" fill="#10d010" stroke="#111" stroke-width="0.75"/>
<circle cx="355.90" cy="286.80" r="1.95" fill="#10d010" stroke="#111" stroke-width="0.75"/>
<circle cx="356.70" cy="290.40" r="1.95" fill="#10d010" stroke="#111" stroke-width="0.75"/>
<circle cx="368.20" cy="285.40" r="1.95" fill="#ffff10" stroke="#111" stroke-width="0.75"/>
<circle cx="371.40" cy="288.20" r="1.95" fill="#ffff10" stroke="#111" stroke-width="0.75"/>
<circle cx="369.50" cy="295.80" r="1.95" fill="#ffff10" stroke="#111" stroke-width="0.75"/>
<circle cx="368.70" cy="303.20" r="1.95" fill="#ffff10" stroke="#111" stroke-width="0.75"/>
<text x="355.90" y="263.46" font-size="15.5" font-weight="bold" text-anchor="middle" fill="#000">*</text>
<text x="368.70" y="285.36" font-size="15.5" font-weight="bold" text-anchor="middle" fill="#000">*</text>
<text x="312.85" y="318.40" font-size="7.8" fill="#000" text-anchor="middle">0</text>
<text x="326.15" y="318.40" font-size="7.8" fill="#000" text-anchor="middle">0.1</text>
<text x="339.45" y="318.40" font-size="7.8" fill="#000" text-anchor="middle">1</text>
<text x="352.75" y="318.40" font-size="7.8" fill="#000" text-anchor="middle">10</text>
<text x="366.05" y="318.40" font-size="7.8" fill="#000" text-anchor="middle">100</text>
<text x="310.60" y="332.20" font-size="10" font-weight="bold" fill="#000" textLength="62.70" lengthAdjust="spacingAndGlyphs">Tadalafil (µM)</text>
<text transform="translate(273.80,313.80) rotate(-90)" x="0" y="0" font-size="10.3" font-weight="bold" fill="#000" textLength="106.60" lengthAdjust="spacingAndGlyphs">%Labelled Cells With</text>
<text transform="translate(284.00,302.30) rotate(-90)" x="0" y="0" font-size="10.3" font-weight="bold" fill="#000" textLength="86.50" lengthAdjust="spacingAndGlyphs">PDE11A4 Droplets</text>
<line x1="435.05" y1="239.97" x2="435.05" y2="237.86" stroke="#000" stroke-width="1.0"/>
<line x1="433.45" y1="237.86" x2="436.65" y2="237.86" stroke="#000" stroke-width="1.0"/>
<rect x="430.40" y="239.97" width="9.30" height="71.03" fill="#fff" stroke="#000" stroke-width="1.2"/>
<line x1="448.35" y1="231.27" x2="448.35" y2="225.65" stroke="#000" stroke-width="1.0"/>
<line x1="446.75" y1="225.65" x2="449.95" y2="225.65" stroke="#000" stroke-width="1.0"/>
<rect x="443.70" y="231.27" width="9.30" height="79.73" fill="#fff" stroke="#000" stroke-width="1.2"/>
<line x1="461.65" y1="233.51" x2="461.65" y2="227.90" stroke="#000" stroke-width="1.0"/>
<line x1="460.05" y1="227.90" x2="463.25" y2="227.90" stroke="#000" stroke-width="1.0"/>
<rect x="457.00" y="233.51" width="9.30" height="77.49" fill="#fff" stroke="#000" stroke-width="1.2"/>
<line x1="474.95" y1="257.24" x2="474.95" y2="255.83" stroke="#000" stroke-width="1.0"/>
<line x1="473.35" y1="255.83" x2="476.55" y2="255.83" stroke="#000" stroke-width="1.0"/>
<rect x="470.30" y="257.24" width="9.30" height="53.76" fill="#fff" stroke="#000" stroke-width="1.2"/>
<line x1="488.25" y1="296.54" x2="488.25" y2="295.14" stroke="#000" stroke-width="1.0"/>
<line x1="486.65" y1="295.14" x2="489.85" y2="295.14" stroke="#000" stroke-width="1.0"/>
<rect x="483.60" y="296.54" width="9.30" height="14.46" fill="#fff" stroke="#000" stroke-width="1.2"/>
<line x1="423.10" y1="198.10" x2="423.10" y2="311.60" stroke="#000" stroke-width="1.3"/>
<line x1="420.50" y1="311.00" x2="500.30" y2="311.00" stroke="#000" stroke-width="1.3"/>
<line x1="420.50" y1="311.00" x2="423.10" y2="311.00" stroke="#000" stroke-width="1.1"/>
<text x="413.90" y="314.77" font-size="8.2" font-weight="normal" fill="#000" text-anchor="middle">0</text>
<line x1="420.50" y1="282.93" x2="423.10" y2="282.93" stroke="#000" stroke-width="1.1"/>
<text x="413.90" y="286.70" font-size="8.2" font-weight="normal" fill="#000" text-anchor="middle">20</text>
<line x1="420.50" y1="254.85" x2="423.10" y2="254.85" stroke="#000" stroke-width="1.1"/>
<text x="413.90" y="258.62" font-size="8.2" font-weight="normal" fill="#000" text-anchor="middle">40</text>
<line x1="420.50" y1="226.77" x2="423.10" y2="226.77" stroke="#000" stroke-width="1.1"/>
<text x="413.90" y="230.55" font-size="8.2" font-weight="normal" fill="#000" text-anchor="middle">60</text>
<line x1="420.50" y1="198.70" x2="423.10" y2="198.70" stroke="#000" stroke-width="1.1"/>
<text x="413.90" y="202.47" font-size="8.2" font-weight="normal" fill="#000" text-anchor="middle">80</text>
<circle cx="434.70" cy="234.50" r="1.95" fill="#000000" stroke="#111" stroke-width="0.75"/>
<circle cx="434.00" cy="238.50" r="1.95" fill="#000000" stroke="#111" stroke-width="0.75"/>
<circle cx="435.20" cy="242.50" r="1.95" fill="#000000" stroke="#111" stroke-width="0.75"/>
<circle cx="434.70" cy="246.50" r="1.95" fill="#000000" stroke="#111" stroke-width="0.75"/>
<circle cx="448.60" cy="216.30" r="1.95" fill="#ffffff" stroke="#111" stroke-width="0.75"/>
<circle cx="448.60" cy="226.00" r="1.95" fill="#ffffff" stroke="#111" stroke-width="0.75"/>
<circle cx="448.60" cy="237.20" r="1.95" fill="#ffffff" stroke="#111" stroke-width="0.75"/>
<circle cx="448.60" cy="246.00" r="1.95" fill="#ffffff" stroke="#111" stroke-width="0.75"/>
<circle cx="462.20" cy="221.10" r="1.95" fill="#e01010" stroke="#111" stroke-width="0.75"/>
<circle cx="463.40" cy="225.30" r="1.95" fill="#e01010" stroke="#111" stroke-width="0.75"/>
<circle cx="462.20" cy="239.20" r="1.95" fill="#e01010" stroke="#111" stroke-width="0.75"/>
<circle cx="462.20" cy="244.10" r="1.95" fill="#e01010" stroke="#111" stroke-width="0.75"/>
<circle cx="472.40" cy="252.30" r="1.95" fill="#10d010" stroke="#111" stroke-width="0.75"/>
<circle cx="474.00" cy="255.90" r="1.95" fill="#10d010" stroke="#111" stroke-width="0.75"/>
<circle cx="476.50" cy="256.80" r="1.95" fill="#10d010" stroke="#111" stroke-width="0.75"/>
<circle cx="478.10" cy="255.50" r="1.95" fill="#10d010" stroke="#111" stroke-width="0.75"/>
<circle cx="486.30" cy="293.20" r="1.95" fill="#ffff10" stroke="#111" stroke-width="0.75"/>
<circle cx="491.20" cy="294.00" r="1.95" fill="#ffff10" stroke="#111" stroke-width="0.75"/>
<circle cx="487.10" cy="297.80" r="1.95" fill="#ffff10" stroke="#111" stroke-width="0.75"/>
<circle cx="491.70" cy="298.10" r="1.95" fill="#ffff10" stroke="#111" stroke-width="0.75"/>
<text x="488.50" y="293.86" font-size="15.5" font-weight="bold" text-anchor="middle" fill="#000">*</text>
<text x="431.75" y="319.00" font-size="7.8" fill="#000" text-anchor="middle">0</text>
<text x="445.05" y="319.00" font-size="7.8" fill="#000" text-anchor="middle">0.1</text>
<text x="458.35" y="319.00" font-size="7.8" fill="#000" text-anchor="middle">1</text>
<text x="471.65" y="319.00" font-size="7.8" fill="#000" text-anchor="middle">10</text>
<text x="484.95" y="319.00" font-size="7.8" fill="#000" text-anchor="middle">100</text>
<text x="429.50" y="332.20" font-size="10" font-weight="bold" fill="#000" textLength="62.70" lengthAdjust="spacingAndGlyphs">Tadalafil (µM)</text>
<text transform="translate(393.60,313.80) rotate(-90)" x="0" y="0" font-size="10.3" font-weight="bold" fill="#000" textLength="107.30" lengthAdjust="spacingAndGlyphs">%Labelled Cells With</text>
<text transform="translate(404.00,302.30) rotate(-90)" x="0" y="0" font-size="10.3" font-weight="bold" fill="#000" textLength="86.50" lengthAdjust="spacingAndGlyphs">PDE11A4 Droplets</text>
<text x="25.50" y="204.50" font-size="12.3" font-weight="bold" fill="#000" textLength="16.50" lengthAdjust="spacingAndGlyphs">(D)</text>
<text x="146.80" y="204.10" font-size="12.3" font-weight="bold" fill="#000" textLength="15.60" lengthAdjust="spacingAndGlyphs">(E)</text>
<text x="263.60" y="203.80" font-size="12.3" font-weight="bold" fill="#000" textLength="14.10" lengthAdjust="spacingAndGlyphs">(F)</text>
<text x="384.50" y="204.20" font-size="12.3" font-weight="bold" fill="#000" textLength="17.80" lengthAdjust="spacingAndGlyphs">(G)</text>
<text x="67.70" y="190.60" font-size="10.2" font-weight="bold" fill="#000" textLength="72.80" lengthAdjust="spacingAndGlyphs">1-hour treatment</text>
<text x="183.20" y="179.50" font-size="10.2" font-weight="bold" fill="#000" textLength="80.00" lengthAdjust="spacingAndGlyphs">1-hour treatment +</text>
<text x="188.60" y="190.50" font-size="10.2" font-weight="bold" fill="#000" textLength="69.10" lengthAdjust="spacingAndGlyphs">5-hour washout</text>
<text x="302.70" y="190.40" font-size="10.2" font-weight="bold" fill="#000" textLength="79.10" lengthAdjust="spacingAndGlyphs">24-hour treatment</text>
<text x="417.70" y="179.60" font-size="10.2" font-weight="bold" fill="#000" textLength="87.30" lengthAdjust="spacingAndGlyphs">24-hour treatment +</text>
<text x="427.30" y="190.50" font-size="10.2" font-weight="bold" fill="#000" textLength="69.50" lengthAdjust="spacingAndGlyphs">5-hour washout</text>
<line x1="77.95" y1="392.86" x2="77.95" y2="390.76" stroke="#000" stroke-width="1.0"/>
<line x1="76.35" y1="390.76" x2="79.55" y2="390.76" stroke="#000" stroke-width="1.0"/>
<rect x="73.10" y="392.86" width="9.70" height="60.54" fill="#fff" stroke="#000" stroke-width="1.2"/>
<line x1="91.05" y1="393.00" x2="91.05" y2="386.02" stroke="#000" stroke-width="1.0"/>
<line x1="89.45" y1="386.02" x2="92.65" y2="386.02" stroke="#000" stroke-width="1.0"/>
<rect x="86.20" y="393.00" width="9.70" height="60.40" fill="#fff" stroke="#000" stroke-width="1.2"/>
<line x1="104.15" y1="399.00" x2="104.15" y2="394.11" stroke="#000" stroke-width="1.0"/>
<line x1="102.55" y1="394.11" x2="105.75" y2="394.11" stroke="#000" stroke-width="1.0"/>
<rect x="99.30" y="399.00" width="9.70" height="54.40" fill="#fff" stroke="#000" stroke-width="1.2"/>
<line x1="117.25" y1="409.88" x2="117.25" y2="407.78" stroke="#000" stroke-width="1.0"/>
<line x1="115.65" y1="407.78" x2="118.85" y2="407.78" stroke="#000" stroke-width="1.0"/>
<rect x="112.40" y="409.88" width="9.70" height="43.52" fill="#fff" stroke="#000" stroke-width="1.2"/>
<line x1="130.35" y1="422.85" x2="130.35" y2="418.66" stroke="#000" stroke-width="1.0"/>
<line x1="128.75" y1="418.66" x2="131.95" y2="418.66" stroke="#000" stroke-width="1.0"/>
<rect x="125.50" y="422.85" width="9.70" height="30.55" fill="#fff" stroke="#000" stroke-width="1.2"/>
<line x1="65.60" y1="341.20" x2="65.60" y2="454.00" stroke="#000" stroke-width="1.3"/>
<line x1="63.00" y1="453.40" x2="142.60" y2="453.40" stroke="#000" stroke-width="1.3"/>
<line x1="63.00" y1="453.40" x2="65.60" y2="453.40" stroke="#000" stroke-width="1.1"/>
<text x="56.40" y="457.17" font-size="8.2" font-weight="normal" fill="#000" text-anchor="middle">0</text>
<line x1="63.00" y1="425.50" x2="65.60" y2="425.50" stroke="#000" stroke-width="1.1"/>
<text x="56.40" y="429.27" font-size="8.2" font-weight="normal" fill="#000" text-anchor="middle">20</text>
<line x1="63.00" y1="397.60" x2="65.60" y2="397.60" stroke="#000" stroke-width="1.1"/>
<text x="56.40" y="401.37" font-size="8.2" font-weight="normal" fill="#000" text-anchor="middle">40</text>
<line x1="63.00" y1="369.70" x2="65.60" y2="369.70" stroke="#000" stroke-width="1.1"/>
<text x="56.40" y="373.47" font-size="8.2" font-weight="normal" fill="#000" text-anchor="middle">60</text>
<line x1="63.00" y1="341.80" x2="65.60" y2="341.80" stroke="#000" stroke-width="1.1"/>
<text x="56.40" y="345.57" font-size="8.2" font-weight="normal" fill="#000" text-anchor="middle">80</text>
<circle cx="75.00" cy="390.00" r="1.95" fill="#000000" stroke="#111" stroke-width="0.75"/>
<circle cx="80.40" cy="390.00" r="1.95" fill="#000000" stroke="#111" stroke-width="0.75"/>
<circle cx="77.70" cy="395.40" r="1.95" fill="#000000" stroke="#111" stroke-width="0.75"/>
<circle cx="78.50" cy="399.50" r="1.95" fill="#000000" stroke="#111" stroke-width="0.75"/>
<circle cx="90.00" cy="378.50" r="1.95" fill="#ffffff" stroke="#111" stroke-width="0.75"/>
<circle cx="90.00" cy="382.40" r="1.95" fill="#ffffff" stroke="#111" stroke-width="0.75"/>
<circle cx="91.40" cy="396.80" r="1.95" fill="#ffffff" stroke="#111" stroke-width="0.75"/>
<circle cx="90.00" cy="417.30" r="1.95" fill="#ffffff" stroke="#111" stroke-width="0.75"/>
<circle cx="103.60" cy="382.40" r="1.95" fill="#e01010" stroke="#111" stroke-width="0.75"/>
<circle cx="103.60" cy="400.40" r="1.95" fill="#e01010" stroke="#111" stroke-width="0.75"/>
<circle cx="103.60" cy="410.40" r="1.95" fill="#e01010" stroke="#111" stroke-width="0.75"/>
<circle cx="117.30" cy="402.30" r="1.95" fill="#10d010" stroke="#111" stroke-width="0.75"/>
<circle cx="114.50" cy="410.40" r="1.95" fill="#10d010" stroke="#111" stroke-width="0.75"/>
<circle cx="119.20" cy="409.60" r="1.95" fill="#10d010" stroke="#111" stroke-width="0.75"/>
<circle cx="117.30" cy="420.00" r="1.95" fill="#10d010" stroke="#111" stroke-width="0.75"/>
<circle cx="130.90" cy="411.80" r="1.95" fill="#ffff10" stroke="#111" stroke-width="0.75"/>
<circle cx="132.30" cy="417.30" r="1.95" fill="#ffff10" stroke="#111" stroke-width="0.75"/>
<circle cx="130.90" cy="427.60" r="1.95" fill="#ffff10" stroke="#111" stroke-width="0.75"/>
<circle cx="130.90" cy="433.60" r="1.95" fill="#ffff10" stroke="#111" stroke-width="0.75"/>
<text x="131.40" y="413.06" font-size="15.5" font-weight="bold" text-anchor="middle" fill="#000">*</text>
<text x="74.75" y="462.90" font-size="7.8" fill="#000" text-anchor="middle">0</text>
<text x="87.85" y="462.90" font-size="7.8" fill="#000" text-anchor="middle">0.1</text>
<text x="100.95" y="462.90" font-size="7.8" fill="#000" text-anchor="middle">1</text>
<text x="114.05" y="462.90" font-size="7.8" fill="#000" text-anchor="middle">10</text>
<text x="127.15" y="462.90" font-size="7.8" fill="#000" text-anchor="middle">100</text>
<text x="72.10" y="475.40" font-size="10" font-weight="bold" fill="#000" textLength="62.50" lengthAdjust="spacingAndGlyphs">BC11-38 (µM)</text>
<text transform="translate(34.40,451.60) rotate(-90)" x="0" y="0" font-size="10.3" font-weight="bold" fill="#000" textLength="100.80" lengthAdjust="spacingAndGlyphs">%Labelled Cells With</text>
<text transform="translate(45.00,440.80) rotate(-90)" x="0" y="0" font-size="10.3" font-weight="bold" fill="#000" textLength="80.60" lengthAdjust="spacingAndGlyphs">PDE11A4 Droplets</text>
<line x1="196.25" y1="384.63" x2="196.25" y2="383.24" stroke="#000" stroke-width="1.0"/>
<line x1="194.65" y1="383.24" x2="197.85" y2="383.24" stroke="#000" stroke-width="1.0"/>
<rect x="191.40" y="384.63" width="9.70" height="72.27" fill="#fff" stroke="#000" stroke-width="1.2"/>
<line x1="209.35" y1="387.97" x2="209.35" y2="385.88" stroke="#000" stroke-width="1.0"/>
<line x1="207.75" y1="385.88" x2="210.95" y2="385.88" stroke="#000" stroke-width="1.0"/>
<rect x="204.50" y="387.97" width="9.70" height="68.93" fill="#fff" stroke="#000" stroke-width="1.2"/>
<line x1="222.45" y1="384.21" x2="222.45" y2="380.03" stroke="#000" stroke-width="1.0"/>
<line x1="220.85" y1="380.03" x2="224.05" y2="380.03" stroke="#000" stroke-width="1.0"/>
<rect x="217.60" y="384.21" width="9.70" height="72.69" fill="#fff" stroke="#000" stroke-width="1.2"/>
<line x1="235.55" y1="389.36" x2="235.55" y2="387.27" stroke="#000" stroke-width="1.0"/>
<line x1="233.95" y1="387.27" x2="237.15" y2="387.27" stroke="#000" stroke-width="1.0"/>
<rect x="230.70" y="389.36" width="9.70" height="67.54" fill="#fff" stroke="#000" stroke-width="1.2"/>
<line x1="248.65" y1="394.93" x2="248.65" y2="393.54" stroke="#000" stroke-width="1.0"/>
<line x1="247.05" y1="393.54" x2="250.25" y2="393.54" stroke="#000" stroke-width="1.0"/>
<rect x="243.80" y="394.93" width="9.70" height="61.97" fill="#fff" stroke="#000" stroke-width="1.2"/>
<line x1="183.90" y1="344.90" x2="183.90" y2="457.50" stroke="#000" stroke-width="1.3"/>
<line x1="181.30" y1="456.90" x2="260.90" y2="456.90" stroke="#000" stroke-width="1.3"/>
<line x1="181.30" y1="456.90" x2="183.90" y2="456.90" stroke="#000" stroke-width="1.1"/>
<text x="174.70" y="460.67" font-size="8.2" font-weight="normal" fill="#000" text-anchor="middle">0</text>
<line x1="181.30" y1="429.05" x2="183.90" y2="429.05" stroke="#000" stroke-width="1.1"/>
<text x="174.70" y="432.82" font-size="8.2" font-weight="normal" fill="#000" text-anchor="middle">20</text>
<line x1="181.30" y1="401.20" x2="183.90" y2="401.20" stroke="#000" stroke-width="1.1"/>
<text x="174.70" y="404.97" font-size="8.2" font-weight="normal" fill="#000" text-anchor="middle">40</text>
<line x1="181.30" y1="373.35" x2="183.90" y2="373.35" stroke="#000" stroke-width="1.1"/>
<text x="174.70" y="377.12" font-size="8.2" font-weight="normal" fill="#000" text-anchor="middle">60</text>
<line x1="181.30" y1="345.50" x2="183.90" y2="345.50" stroke="#000" stroke-width="1.1"/>
<text x="174.70" y="349.27" font-size="8.2" font-weight="normal" fill="#000" text-anchor="middle">80</text>
<circle cx="192.20" cy="384.50" r="1.95" fill="#000000" stroke="#111" stroke-width="0.75"/>
<circle cx="195.40" cy="385.90" r="1.95" fill="#000000" stroke="#111" stroke-width="0.75"/>
<circle cx="198.70" cy="384.50" r="1.95" fill="#000000" stroke="#111" stroke-width="0.75"/>
<circle cx="194.90" cy="387.80" r="1.95" fill="#000000" stroke="#111" stroke-width="0.75"/>
<circle cx="209.10" cy="381.30" r="1.95" fill="#ffffff" stroke="#111" stroke-width="0.75"/>
<circle cx="206.40" cy="387.30" r="1.95" fill="#ffffff" stroke="#111" stroke-width="0.75"/>
<circle cx="211.30" cy="388.60" r="1.95" fill="#ffffff" stroke="#111" stroke-width="0.75"/>
<circle cx="208.50" cy="391.40" r="1.95" fill="#ffffff" stroke="#111" stroke-width="0.75"/>
<circle cx="222.20" cy="374.20" r="1.95" fill="#e01010" stroke="#111" stroke-width="0.75"/>
<circle cx="224.10" cy="379.10" r="1.95" fill="#e01010" stroke="#111" stroke-width="0.75"/>
<circle cx="222.70" cy="388.10" r="1.95" fill="#e01010" stroke="#111" stroke-width="0.75"/>
<circle cx="222.20" cy="396.00" r="1.95" fill="#e01010" stroke="#111" stroke-width="0.75"/>
<circle cx="234.20" cy="383.20" r="1.95" fill="#10d010" stroke="#111" stroke-width="0.75"/>
<circle cx="233.10" cy="389.40" r="1.95" fill="#10d010" stroke="#111" stroke-width="0.75"/>
<circle cx="236.90" cy="390.50" r="1.95" fill="#10d010" stroke="#111" stroke-width="0.75"/>
<circle cx="244.50" cy="393.30" r="1.95" fill="#ffff10" stroke="#111" stroke-width="0.75"/>
<circle cx="247.80" cy="394.60" r="1.95" fill="#ffff10" stroke="#111" stroke-width="0.75"/>
<circle cx="251.40" cy="394.10" r="1.95" fill="#ffff10" stroke="#111" stroke-width="0.75"/>
<circle cx="246.70" cy="396.80" r="1.95" fill="#ffff10" stroke="#111" stroke-width="0.75"/>
<text x="193.05" y="466.40" font-size="7.8" fill="#000" text-anchor="middle">0</text>
<text x="206.15" y="466.40" font-size="7.8" fill="#000" text-anchor="middle">0.1</text>
<text x="219.25" y="466.40" font-size="7.8" fill="#000" text-anchor="middle">1</text>
<text x="232.35" y="466.40" font-size="7.8" fill="#000" text-anchor="middle">10</text>
<text x="245.45" y="466.40" font-size="7.8" fill="#000" text-anchor="middle">100</text>
<text x="190.40" y="478.90" font-size="10" font-weight="bold" fill="#000" textLength="62.50" lengthAdjust="spacingAndGlyphs">BC11-38 (µM)</text>
<text transform="translate(154.20,453.80) rotate(-90)" x="0" y="0" font-size="10.3" font-weight="bold" fill="#000" textLength="100.80" lengthAdjust="spacingAndGlyphs">%Labelled Cells With</text>
<text transform="translate(164.80,444.40) rotate(-90)" x="0" y="0" font-size="10.3" font-weight="bold" fill="#000" textLength="82.80" lengthAdjust="spacingAndGlyphs">PDE11A4 Droplets</text>
<line x1="316.25" y1="390.57" x2="316.25" y2="386.39" stroke="#000" stroke-width="1.0"/>
<line x1="314.65" y1="386.39" x2="317.85" y2="386.39" stroke="#000" stroke-width="1.0"/>
<rect x="311.40" y="390.57" width="9.70" height="64.73" fill="#fff" stroke="#000" stroke-width="1.2"/>
<line x1="329.35" y1="394.62" x2="329.35" y2="389.74" stroke="#000" stroke-width="1.0"/>
<line x1="327.75" y1="389.74" x2="330.95" y2="389.74" stroke="#000" stroke-width="1.0"/>
<rect x="324.50" y="394.62" width="9.70" height="60.68" fill="#fff" stroke="#000" stroke-width="1.2"/>
<line x1="342.45" y1="388.48" x2="342.45" y2="386.39" stroke="#000" stroke-width="1.0"/>
<line x1="340.85" y1="386.39" x2="344.05" y2="386.39" stroke="#000" stroke-width="1.0"/>
<rect x="337.60" y="388.48" width="9.70" height="66.82" fill="#fff" stroke="#000" stroke-width="1.2"/>
<line x1="355.55" y1="395.45" x2="355.55" y2="393.36" stroke="#000" stroke-width="1.0"/>
<line x1="353.95" y1="393.36" x2="357.15" y2="393.36" stroke="#000" stroke-width="1.0"/>
<rect x="350.70" y="395.45" width="9.70" height="59.85" fill="#fff" stroke="#000" stroke-width="1.2"/>
<line x1="368.65" y1="422.66" x2="368.65" y2="419.87" stroke="#000" stroke-width="1.0"/>
<line x1="367.05" y1="419.87" x2="370.25" y2="419.87" stroke="#000" stroke-width="1.0"/>
<rect x="363.80" y="422.66" width="9.70" height="32.64" fill="#fff" stroke="#000" stroke-width="1.2"/>
<line x1="303.90" y1="343.10" x2="303.90" y2="455.90" stroke="#000" stroke-width="1.3"/>
<line x1="301.30" y1="455.30" x2="380.90" y2="455.30" stroke="#000" stroke-width="1.3"/>
<line x1="301.30" y1="455.30" x2="303.90" y2="455.30" stroke="#000" stroke-width="1.1"/>
<text x="294.70" y="459.07" font-size="8.2" font-weight="normal" fill="#000" text-anchor="middle">0</text>
<line x1="301.30" y1="427.40" x2="303.90" y2="427.40" stroke="#000" stroke-width="1.1"/>
<text x="294.70" y="431.17" font-size="8.2" font-weight="normal" fill="#000" text-anchor="middle">20</text>
<line x1="301.30" y1="399.50" x2="303.90" y2="399.50" stroke="#000" stroke-width="1.1"/>
<text x="294.70" y="403.27" font-size="8.2" font-weight="normal" fill="#000" text-anchor="middle">40</text>
<line x1="301.30" y1="371.60" x2="303.90" y2="371.60" stroke="#000" stroke-width="1.1"/>
<text x="294.70" y="375.37" font-size="8.2" font-weight="normal" fill="#000" text-anchor="middle">60</text>
<line x1="301.30" y1="343.70" x2="303.90" y2="343.70" stroke="#000" stroke-width="1.1"/>
<text x="294.70" y="347.47" font-size="8.2" font-weight="normal" fill="#000" text-anchor="middle">80</text>
<circle cx="315.00" cy="379.10" r="1.95" fill="#000000" stroke="#111" stroke-width="0.75"/>
<circle cx="318.50" cy="385.90" r="1.95" fill="#000000" stroke="#111" stroke-width="0.75"/>
<circle cx="315.00" cy="395.40" r="1.95" fill="#000000" stroke="#111" stroke-width="0.75"/>
<circle cx="315.80" cy="402.30" r="1.95" fill="#000000" stroke="#111" stroke-width="0.75"/>
<circle cx="327.80" cy="384.50" r="1.95" fill="#ffffff" stroke="#111" stroke-width="0.75"/>
<circle cx="328.60" cy="387.80" r="1.95" fill="#ffffff" stroke="#111" stroke-width="0.75"/>
<circle cx="327.30" cy="399.50" r="1.95" fill="#ffffff" stroke="#111" stroke-width="0.75"/>
<circle cx="329.40" cy="409.10" r="1.95" fill="#ffffff" stroke="#111" stroke-width="0.75"/>
<circle cx="339.50" cy="387.80" r="1.95" fill="#e01010" stroke="#111" stroke-width="0.75"/>
<circle cx="343.10" cy="387.80" r="1.95" fill="#e01010" stroke="#111" stroke-width="0.75"/>
<circle cx="345.80" cy="390.00" r="1.95" fill="#e01010" stroke="#111" stroke-width="0.75"/>
<circle cx="341.40" cy="401.40" r="1.95" fill="#e01010" stroke="#111" stroke-width="0.75"/>
<circle cx="351.80" cy="392.70" r="1.95" fill="#10d010" stroke="#111" stroke-width="0.75"/>
<circle cx="356.70" cy="393.30" r="1.95" fill="#10d010" stroke="#111" stroke-width="0.75"/>
<circle cx="355.10" cy="396.00" r="1.95" fill="#10d010" stroke="#111" stroke-width="0.75"/>
<circle cx="355.10" cy="404.20" r="1.95" fill="#10d010" stroke="#111" stroke-width="0.75"/>
<circle cx="367.60" cy="417.80" r="1.95" fill="#ffff10" stroke="#111" stroke-width="0.75"/>
<circle cx="370.90" cy="422.70" r="1.95" fill="#ffff10" stroke="#111" stroke-width="0.75"/>
<circle cx="366.80" cy="424.90" r="1.95" fill="#ffff10" stroke="#111" stroke-width="0.75"/>
<circle cx="368.20" cy="430.40" r="1.95" fill="#ffff10" stroke="#111" stroke-width="0.75"/>
<text x="368.20" y="419.36" font-size="15.5" font-weight="bold" text-anchor="middle" fill="#000">*</text>
<text x="313.05" y="464.80" font-size="7.8" fill="#000" text-anchor="middle">0</text>
<text x="326.15" y="464.80" font-size="7.8" fill="#000" text-anchor="middle">0.1</text>
<text x="339.25" y="464.80" font-size="7.8" fill="#000" text-anchor="middle">1</text>
<text x="352.35" y="464.80" font-size="7.8" fill="#000" text-anchor="middle">10</text>
<text x="365.45" y="464.80" font-size="7.8" fill="#000" text-anchor="middle">100</text>
<text x="310.40" y="477.30" font-size="10" font-weight="bold" fill="#000" textLength="62.50" lengthAdjust="spacingAndGlyphs">BC11-38 (µM)</text>
<text transform="translate(273.50,453.80) rotate(-90)" x="0" y="0" font-size="10.3" font-weight="bold" fill="#000" textLength="102.30" lengthAdjust="spacingAndGlyphs">%Labelled Cells With</text>
<text transform="translate(283.80,443.70) rotate(-90)" x="0" y="0" font-size="10.3" font-weight="bold" fill="#000" textLength="83.50" lengthAdjust="spacingAndGlyphs">PDE11A4 Droplets</text>
<line x1="435.75" y1="379.84" x2="435.75" y2="375.64" stroke="#000" stroke-width="1.0"/>
<line x1="434.15" y1="375.64" x2="437.35" y2="375.64" stroke="#000" stroke-width="1.0"/>
<rect x="430.90" y="379.84" width="9.70" height="75.46" fill="#fff" stroke="#000" stroke-width="1.2"/>
<line x1="448.85" y1="388.50" x2="448.85" y2="384.31" stroke="#000" stroke-width="1.0"/>
<line x1="447.25" y1="384.31" x2="450.45" y2="384.31" stroke="#000" stroke-width="1.0"/>
<rect x="444.00" y="388.50" width="9.70" height="66.80" fill="#fff" stroke="#000" stroke-width="1.2"/>
<line x1="461.95" y1="387.94" x2="461.95" y2="384.45" stroke="#000" stroke-width="1.0"/>
<line x1="460.35" y1="384.45" x2="463.55" y2="384.45" stroke="#000" stroke-width="1.0"/>
<rect x="457.10" y="387.94" width="9.70" height="67.36" fill="#fff" stroke="#000" stroke-width="1.2"/>
<line x1="475.05" y1="396.19" x2="475.05" y2="394.09" stroke="#000" stroke-width="1.0"/>
<line x1="473.45" y1="394.09" x2="476.65" y2="394.09" stroke="#000" stroke-width="1.0"/>
<rect x="470.20" y="396.19" width="9.70" height="59.11" fill="#fff" stroke="#000" stroke-width="1.2"/>
<line x1="488.15" y1="400.80" x2="488.15" y2="395.21" stroke="#000" stroke-width="1.0"/>
<line x1="486.55" y1="395.21" x2="489.75" y2="395.21" stroke="#000" stroke-width="1.0"/>
<rect x="483.30" y="400.80" width="9.70" height="54.50" fill="#fff" stroke="#000" stroke-width="1.2"/>
<line x1="423.40" y1="342.90" x2="423.40" y2="455.90" stroke="#000" stroke-width="1.3"/>
<line x1="420.80" y1="455.30" x2="500.40" y2="455.30" stroke="#000" stroke-width="1.3"/>
<line x1="420.80" y1="455.30" x2="423.40" y2="455.30" stroke="#000" stroke-width="1.1"/>
<text x="414.20" y="459.07" font-size="8.2" font-weight="normal" fill="#000" text-anchor="middle">0</text>
<line x1="420.80" y1="427.35" x2="423.40" y2="427.35" stroke="#000" stroke-width="1.1"/>
<text x="414.20" y="431.12" font-size="8.2" font-weight="normal" fill="#000" text-anchor="middle">20</text>
<line x1="420.80" y1="399.40" x2="423.40" y2="399.40" stroke="#000" stroke-width="1.1"/>
<text x="414.20" y="403.17" font-size="8.2" font-weight="normal" fill="#000" text-anchor="middle">40</text>
<line x1="420.80" y1="371.45" x2="423.40" y2="371.45" stroke="#000" stroke-width="1.1"/>
<text x="414.20" y="375.22" font-size="8.2" font-weight="normal" fill="#000" text-anchor="middle">60</text>
<line x1="420.80" y1="343.50" x2="423.40" y2="343.50" stroke="#000" stroke-width="1.1"/>
<text x="414.20" y="347.27" font-size="8.2" font-weight="normal" fill="#000" text-anchor="middle">80</text>
<circle cx="434.90" cy="364.10" r="1.95" fill="#000000" stroke="#111" stroke-width="0.75"/>
<circle cx="434.90" cy="379.10" r="1.95" fill="#000000" stroke="#111" stroke-width="0.75"/>
<circle cx="434.90" cy="385.90" r="1.95" fill="#000000" stroke="#111" stroke-width="0.75"/>
<circle cx="434.90" cy="392.70" r="1.95" fill="#000000" stroke="#111" stroke-width="0.75"/>
<circle cx="448.50" cy="376.90" r="1.95" fill="#ffffff" stroke="#111" stroke-width="0.75"/>
<circle cx="449.60" cy="386.70" r="1.95" fill="#ffffff" stroke="#111" stroke-width="0.75"/>
<circle cx="446.90" cy="390.50" r="1.95" fill="#ffffff" stroke="#111" stroke-width="0.75"/>
<circle cx="448.50" cy="403.60" r="1.95" fill="#ffffff" stroke="#111" stroke-width="0.75"/>
<circle cx="462.20" cy="380.50" r="1.95" fill="#e01010" stroke="#111" stroke-width="0.75"/>
<circle cx="464.10" cy="387.30" r="1.95" fill="#e01010" stroke="#111" stroke-width="0.75"/>
<circle cx="461.40" cy="390.50" r="1.95" fill="#e01010" stroke="#111" stroke-width="0.75"/>
<circle cx="462.20" cy="400.40" r="1.95" fill="#e01010" stroke="#111" stroke-width="0.75"/>
<circle cx="472.30" cy="394.90" r="1.95" fill="#10d010" stroke="#111" stroke-width="0.75"/>
<circle cx="477.70" cy="396.00" r="1.95" fill="#10d010" stroke="#111" stroke-width="0.75"/>
<circle cx="474.20" cy="402.30" r="1.95" fill="#10d010" stroke="#111" stroke-width="0.75"/>
<circle cx="487.80" cy="383.20" r="1.95" fill="#ffff10" stroke="#111" stroke-width="0.75"/>
<circle cx="487.80" cy="405.00" r="1.95" fill="#ffff10" stroke="#111" stroke-width="0.75"/>
<circle cx="487.80" cy="409.10" r="1.95" fill="#ffff10" stroke="#111" stroke-width="0.75"/>
<circle cx="487.80" cy="411.80" r="1.95" fill="#ffff10" stroke="#111" stroke-width="0.75"/>
<text x="432.55" y="464.80" font-size="7.8" fill="#000" text-anchor="middle">0</text>
<text x="445.65" y="464.80" font-size="7.8" fill="#000" text-anchor="middle">0.1</text>
<text x="458.75" y="464.80" font-size="7.8" fill="#000" text-anchor="middle">1</text>
<text x="471.85" y="464.80" font-size="7.8" fill="#000" text-anchor="middle">10</text>
<text x="484.95" y="464.80" font-size="7.8" fill="#000" text-anchor="middle">100</text>
<text x="429.90" y="477.30" font-size="10" font-weight="bold" fill="#000" textLength="62.50" lengthAdjust="spacingAndGlyphs">BC11-38 (µM)</text>
<text transform="translate(394.20,453.80) rotate(-90)" x="0" y="0" font-size="10.3" font-weight="bold" fill="#000" textLength="103.00" lengthAdjust="spacingAndGlyphs">%Labelled Cells With</text>
<text transform="translate(404.00,445.90) rotate(-90)" x="0" y="0" font-size="10.3" font-weight="bold" fill="#000" textLength="85.70" lengthAdjust="spacingAndGlyphs">PDE11A4 Droplets</text>
<text x="25.90" y="348.40" font-size="12.3" font-weight="bold" fill="#000" textLength="16.40" lengthAdjust="spacingAndGlyphs">(H)</text>
<text x="147.70" y="349.90" font-size="12.3" font-weight="bold" fill="#000" textLength="10.90" lengthAdjust="spacingAndGlyphs">(I)</text>
<text x="265.90" y="348.90" font-size="12.3" font-weight="bold" fill="#000" textLength="14.10" lengthAdjust="spacingAndGlyphs">(J)</text>
<text x="384.50" y="349.90" font-size="12.3" font-weight="bold" fill="#000" textLength="17.80" lengthAdjust="spacingAndGlyphs">(K)</text>
<line x1="74.55" y1="539.67" x2="74.55" y2="534.77" stroke="#000" stroke-width="1.0"/>
<line x1="72.95" y1="534.77" x2="76.15" y2="534.77" stroke="#000" stroke-width="1.0"/>
<rect x="69.30" y="539.67" width="10.50" height="75.33" fill="#fff" stroke="#444" stroke-width="1.0"/>
<line x1="88.50" y1="542.42" x2="88.50" y2="539.48" stroke="#000" stroke-width="1.0"/>
<line x1="86.90" y1="539.48" x2="90.10" y2="539.48" stroke="#000" stroke-width="1.0"/>
<rect x="83.50" y="542.42" width="10.00" height="72.58" fill="#fff" stroke="#444" stroke-width="1.0"/>
<line x1="102.10" y1="538.30" x2="102.10" y2="536.34" stroke="#000" stroke-width="1.0"/>
<line x1="100.50" y1="536.34" x2="103.70" y2="536.34" stroke="#000" stroke-width="1.0"/>
<rect x="97.10" y="538.30" width="10.00" height="76.70" fill="#fff" stroke="#444" stroke-width="1.0"/>
<line x1="116.15" y1="537.71" x2="116.15" y2="535.75" stroke="#000" stroke-width="1.0"/>
<line x1="114.55" y1="535.75" x2="117.75" y2="535.75" stroke="#000" stroke-width="1.0"/>
<rect x="110.70" y="537.71" width="10.90" height="77.29" fill="#fff" stroke="#444" stroke-width="1.0"/>
<line x1="130.10" y1="539.67" x2="130.10" y2="534.77" stroke="#000" stroke-width="1.0"/>
<line x1="128.50" y1="534.77" x2="131.70" y2="534.77" stroke="#000" stroke-width="1.0"/>
<rect x="124.90" y="539.67" width="10.40" height="75.33" fill="#fff" stroke="#444" stroke-width="1.0"/>
<line x1="143.70" y1="593.03" x2="143.70" y2="590.09" stroke="#000" stroke-width="1.0"/>
<line x1="142.10" y1="590.09" x2="145.30" y2="590.09" stroke="#000" stroke-width="1.0"/>
<rect x="138.90" y="593.03" width="9.60" height="21.97" fill="#fff" stroke="#444" stroke-width="1.0"/>
<line x1="62.50" y1="496.70" x2="62.50" y2="615.60" stroke="#000" stroke-width="1.3"/>
<line x1="59.90" y1="615.00" x2="156.20" y2="615.00" stroke="#000" stroke-width="1.3"/>
<line x1="59.90" y1="615.00" x2="62.50" y2="615.00" stroke="#000" stroke-width="1.1"/>
<text x="54.20" y="616.60" font-size="8" fill="#333" text-anchor="middle">0</text>
<line x1="59.90" y1="595.38" x2="62.50" y2="595.38" stroke="#000" stroke-width="1.1"/>
<text x="54.20" y="596.98" font-size="8" fill="#333" text-anchor="middle">10</text>
<line x1="59.90" y1="575.77" x2="62.50" y2="575.77" stroke="#000" stroke-width="1.1"/>
<text x="54.20" y="577.37" font-size="8" fill="#333" text-anchor="middle">20</text>
<line x1="59.90" y1="556.15" x2="62.50" y2="556.15" stroke="#000" stroke-width="1.1"/>
<text x="54.20" y="557.75" font-size="8" fill="#333" text-anchor="middle">30</text>
<line x1="59.90" y1="536.53" x2="62.50" y2="536.53" stroke="#000" stroke-width="1.1"/>
<text x="54.20" y="538.13" font-size="8" fill="#333" text-anchor="middle">40</text>
<line x1="59.90" y1="516.92" x2="62.50" y2="516.92" stroke="#000" stroke-width="1.1"/>
<text x="54.20" y="518.52" font-size="8" fill="#333" text-anchor="middle">50</text>
<line x1="59.90" y1="497.30" x2="62.50" y2="497.30" stroke="#000" stroke-width="1.1"/>
<text x="54.20" y="498.90" font-size="8" fill="#333" text-anchor="middle">60</text>
<circle cx="74.20" cy="525.10" r="1.95" fill="#f5a050" stroke="#111" stroke-width="0.75"/>
<circle cx="74.20" cy="536.00" r="1.95" fill="#f5a050" stroke="#111" stroke-width="0.75"/>
<circle cx="74.20" cy="539.50" r="1.95" fill="#f5a050" stroke="#111" stroke-width="0.75"/>
<circle cx="74.20" cy="555.90" r="1.95" fill="#f5a050" stroke="#111" stroke-width="0.75"/>
<circle cx="89.40" cy="534.10" r="1.95" fill="#ffffff" stroke="#111" stroke-width="0.75"/>
<circle cx="86.70" cy="536.00" r="1.95" fill="#ffffff" stroke="#111" stroke-width="0.75"/>
<circle cx="90.00" cy="546.40" r="1.95" fill="#ffffff" stroke="#111" stroke-width="0.75"/>
<circle cx="87.30" cy="549.60" r="1.95" fill="#ffffff" stroke="#111" stroke-width="0.75"/>
<circle cx="102.30" cy="530.50" r="1.95" fill="#e01010" stroke="#111" stroke-width="0.75"/>
<circle cx="100.40" cy="536.80" r="1.95" fill="#e01010" stroke="#111" stroke-width="0.75"/>
<circle cx="105.00" cy="538.20" r="1.95" fill="#e01010" stroke="#111" stroke-width="0.75"/>
<circle cx="102.30" cy="545.00" r="1.95" fill="#e01010" stroke="#111" stroke-width="0.75"/>
<circle cx="114.50" cy="535.50" r="1.95" fill="#10d010" stroke="#111" stroke-width="0.75"/>
<circle cx="117.30" cy="534.10" r="1.95" fill="#10d010" stroke="#111" stroke-width="0.75"/>
<circle cx="113.20" cy="538.20" r="1.95" fill="#10d010" stroke="#111" stroke-width="0.75"/>
<circle cx="116.70" cy="541.40" r="1.95" fill="#10d010" stroke="#111" stroke-width="0.75"/>
<circle cx="129.50" cy="529.50" r="1.95" fill="#ffff10" stroke="#111" stroke-width="0.75"/>
<circle cx="129.50" cy="532.20" r="1.95" fill="#ffff10" stroke="#111" stroke-width="0.75"/>
<circle cx="128.20" cy="547.70" r="1.95" fill="#ffff10" stroke="#111" stroke-width="0.75"/>
<circle cx="131.40" cy="549.60" r="1.95" fill="#ffff10" stroke="#111" stroke-width="0.75"/>
<circle cx="143.50" cy="583.60" r="1.95" fill="#1530e0" stroke="#111" stroke-width="0.75"/>
<circle cx="143.50" cy="589.00" r="1.95" fill="#1530e0" stroke="#111" stroke-width="0.75"/>
<circle cx="141.20" cy="599.70" r="1.95" fill="#1530e0" stroke="#111" stroke-width="0.75"/>
<circle cx="145.20" cy="597.80" r="1.95" fill="#1530e0" stroke="#111" stroke-width="0.75"/>
<text x="144.00" y="584.06" font-size="15.5" font-weight="bold" text-anchor="middle" fill="#000">*</text>
<text x="74.40" y="624.30" font-size="7.8" fill="#000" text-anchor="middle">0</text>
<text x="87.50" y="624.30" font-size="7.8" fill="#000" text-anchor="middle">0.1</text>
<text x="101.30" y="624.30" font-size="7.8" fill="#000" text-anchor="middle">1</text>
<text x="115.30" y="624.30" font-size="7.8" fill="#000" text-anchor="middle">10</text>
<text x="129.20" y="624.30" font-size="7.8" fill="#000" text-anchor="middle">100</text>
<text transform="translate(146.20,651.00) rotate(-90)" x="0" y="0" font-size="7.5" font-weight="normal" fill="#222" textLength="33.30" lengthAdjust="spacingAndGlyphs">10µM Tad</text>
<text x="69.60" y="636.60" font-size="10.5" font-weight="bold" fill="#000" textLength="66.10" lengthAdjust="spacingAndGlyphs">Rolipram(µM)</text>
<text transform="translate(32.80,611.40) rotate(-90)" x="0" y="0" font-size="10.3" font-weight="bold" fill="#000" textLength="106.60" lengthAdjust="spacingAndGlyphs">%Labelled Cells With</text>
<text transform="translate(43.20,598.70) rotate(-90)" x="0" y="0" font-size="10.3" font-weight="bold" fill="#000" textLength="84.20" lengthAdjust="spacingAndGlyphs">PDE11A4 Droplets</text>
<text x="24.00" y="500.70" font-size="12.3" font-weight="bold" fill="#000" textLength="16.90" lengthAdjust="spacingAndGlyphs">(L)</text>
<line x1="205.70" y1="531.43" x2="205.70" y2="529.87" stroke="#000" stroke-width="1.0"/>
<line x1="204.10" y1="529.87" x2="207.30" y2="529.87" stroke="#000" stroke-width="1.0"/>
<rect x="200.70" y="531.43" width="10.00" height="83.87" fill="#fff" stroke="#444" stroke-width="1.0"/>
<line x1="219.65" y1="544.92" x2="219.65" y2="540.03" stroke="#000" stroke-width="1.0"/>
<line x1="218.05" y1="540.03" x2="221.25" y2="540.03" stroke="#000" stroke-width="1.0"/>
<rect x="214.90" y="544.92" width="9.50" height="70.38" fill="#fff" stroke="#444" stroke-width="1.0"/>
<line x1="233.45" y1="539.45" x2="233.45" y2="536.51" stroke="#000" stroke-width="1.0"/>
<line x1="231.85" y1="536.51" x2="235.05" y2="536.51" stroke="#000" stroke-width="1.0"/>
<rect x="228.40" y="539.45" width="10.10" height="75.85" fill="#fff" stroke="#444" stroke-width="1.0"/>
<line x1="247.50" y1="536.71" x2="247.50" y2="534.75" stroke="#000" stroke-width="1.0"/>
<line x1="245.90" y1="534.75" x2="249.10" y2="534.75" stroke="#000" stroke-width="1.0"/>
<rect x="242.50" y="536.71" width="10.00" height="78.59" fill="#fff" stroke="#444" stroke-width="1.0"/>
<line x1="261.20" y1="532.21" x2="261.20" y2="530.65" stroke="#000" stroke-width="1.0"/>
<line x1="259.60" y1="530.65" x2="262.80" y2="530.65" stroke="#000" stroke-width="1.0"/>
<rect x="256.20" y="532.21" width="10.00" height="83.09" fill="#fff" stroke="#444" stroke-width="1.0"/>
<line x1="274.35" y1="602.40" x2="274.35" y2="600.83" stroke="#000" stroke-width="1.0"/>
<line x1="272.75" y1="600.83" x2="275.95" y2="600.83" stroke="#000" stroke-width="1.0"/>
<rect x="269.80" y="602.40" width="9.10" height="12.90" fill="#fff" stroke="#444" stroke-width="1.0"/>
<line x1="192.80" y1="497.40" x2="192.80" y2="615.90" stroke="#000" stroke-width="1.3"/>
<line x1="190.20" y1="615.30" x2="285.30" y2="615.30" stroke="#000" stroke-width="1.3"/>
<line x1="190.20" y1="615.30" x2="192.80" y2="615.30" stroke="#000" stroke-width="1.1"/>
<text x="183.80" y="616.90" font-size="8" fill="#333" text-anchor="middle">0</text>
<line x1="190.20" y1="595.75" x2="192.80" y2="595.75" stroke="#000" stroke-width="1.1"/>
<text x="183.80" y="597.35" font-size="8" fill="#333" text-anchor="middle">10</text>
<line x1="190.20" y1="576.20" x2="192.80" y2="576.20" stroke="#000" stroke-width="1.1"/>
<text x="183.80" y="577.80" font-size="8" fill="#333" text-anchor="middle">20</text>
<line x1="190.20" y1="556.65" x2="192.80" y2="556.65" stroke="#000" stroke-width="1.1"/>
<text x="183.80" y="558.25" font-size="8" fill="#333" text-anchor="middle">30</text>
<line x1="190.20" y1="537.10" x2="192.80" y2="537.10" stroke="#000" stroke-width="1.1"/>
<text x="183.80" y="538.70" font-size="8" fill="#333" text-anchor="middle">40</text>
<line x1="190.20" y1="517.55" x2="192.80" y2="517.55" stroke="#000" stroke-width="1.1"/>
<text x="183.80" y="519.15" font-size="8" fill="#333" text-anchor="middle">50</text>
<line x1="190.20" y1="498.00" x2="192.80" y2="498.00" stroke="#000" stroke-width="1.1"/>
<text x="183.80" y="499.60" font-size="8" fill="#333" text-anchor="middle">60</text>
<circle cx="203.20" cy="528.60" r="1.95" fill="#f5a050" stroke="#111" stroke-width="0.75"/>
<circle cx="205.90" cy="527.80" r="1.95" fill="#f5a050" stroke="#111" stroke-width="0.75"/>
<circle cx="208.60" cy="531.40" r="1.95" fill="#f5a050" stroke="#111" stroke-width="0.75"/>
<circle cx="204.00" cy="531.40" r="1.95" fill="#f5a050" stroke="#111" stroke-width="0.75"/>
<circle cx="220.40" cy="527.80" r="1.95" fill="#ffffff" stroke="#111" stroke-width="0.75"/>
<circle cx="220.40" cy="543.60" r="1.95" fill="#ffffff" stroke="#111" stroke-width="0.75"/>
<circle cx="219.50" cy="551.80" r="1.95" fill="#ffffff" stroke="#111" stroke-width="0.75"/>
<circle cx="219.50" cy="558.60" r="1.95" fill="#ffffff" stroke="#111" stroke-width="0.75"/>
<circle cx="233.20" cy="530.00" r="1.95" fill="#e01010" stroke="#111" stroke-width="0.75"/>
<circle cx="231.80" cy="539.50" r="1.95" fill="#e01010" stroke="#111" stroke-width="0.75"/>
<circle cx="235.10" cy="542.30" r="1.95" fill="#e01010" stroke="#111" stroke-width="0.75"/>
<circle cx="233.20" cy="549.10" r="1.95" fill="#e01010" stroke="#111" stroke-width="0.75"/>
<circle cx="244.10" cy="534.10" r="1.95" fill="#10d010" stroke="#111" stroke-width="0.75"/>
<circle cx="247.60" cy="536.80" r="1.95" fill="#10d010" stroke="#111" stroke-width="0.75"/>
<circle cx="244.90" cy="539.50" r="1.95" fill="#10d010" stroke="#111" stroke-width="0.75"/>
<circle cx="248.70" cy="539.50" r="1.95" fill="#10d010" stroke="#111" stroke-width="0.75"/>
<circle cx="257.70" cy="532.70" r="1.95" fill="#ffff10" stroke="#111" stroke-width="0.75"/>
<circle cx="261.30" cy="533.30" r="1.95" fill="#ffff10" stroke="#111" stroke-width="0.75"/>
<circle cx="259.10" cy="535.50" r="1.95" fill="#ffff10" stroke="#111" stroke-width="0.75"/>
<circle cx="263.20" cy="535.50" r="1.95" fill="#ffff10" stroke="#111" stroke-width="0.75"/>
<circle cx="274.90" cy="602.30" r="1.95" fill="#1530e0" stroke="#111" stroke-width="0.75"/>
<circle cx="276.00" cy="603.60" r="1.95" fill="#1530e0" stroke="#111" stroke-width="0.75"/>
<circle cx="273.30" cy="605.00" r="1.95" fill="#1530e0" stroke="#111" stroke-width="0.75"/>
<circle cx="276.80" cy="600.90" r="1.95" fill="#1530e0" stroke="#111" stroke-width="0.75"/>
<text x="276.00" y="598.96" font-size="15.5" font-weight="bold" text-anchor="middle" fill="#000">*</text>
<text x="206.20" y="626.00" font-size="7.8" fill="#000" text-anchor="middle">0</text>
<text x="219.40" y="626.00" font-size="7.8" fill="#000" text-anchor="middle">0.1</text>
<text x="232.50" y="626.00" font-size="7.8" fill="#000" text-anchor="middle">1</text>
<text x="246.60" y="626.00" font-size="7.8" fill="#000" text-anchor="middle">10</text>
<text x="260.30" y="626.00" font-size="7.8" fill="#000" text-anchor="middle">100</text>
<text transform="translate(276.60,651.30) rotate(-90)" x="0" y="0" font-size="7.5" font-weight="normal" fill="#222" textLength="32.70" lengthAdjust="spacingAndGlyphs">10µM Tad</text>
<text x="192.30" y="636.60" font-size="10.5" font-weight="bold" fill="#000" textLength="74.40" lengthAdjust="spacingAndGlyphs">Papavarine(µM)</text>
<text transform="translate(163.80,611.40) rotate(-90)" x="0" y="0" font-size="10.3" font-weight="bold" fill="#000" textLength="105.10" lengthAdjust="spacingAndGlyphs">%Labelled Cells With</text>
<text transform="translate(173.50,603.20) rotate(-90)" x="0" y="0" font-size="10.3" font-weight="bold" fill="#000" textLength="87.20" lengthAdjust="spacingAndGlyphs">PDE11A4 Droplets</text>
<text x="155.50" y="500.70" font-size="12.3" font-weight="bold" fill="#000" textLength="17.70" lengthAdjust="spacingAndGlyphs">(M)</text>
<text x="280.90" y="501.20" font-size="12.3" font-weight="bold" fill="#000" textLength="16.80" lengthAdjust="spacingAndGlyphs">(N)</text>
<text x="312.50" y="512.60" font-size="10" font-weight="normal" fill="#000" textLength="16.50" lengthAdjust="spacingAndGlyphs">Veh</text>
<text x="347.40" y="512.60" font-size="10" font-weight="normal" fill="#000" textLength="13.00" lengthAdjust="spacingAndGlyphs">BC</text>
<text x="377.50" y="512.60" font-size="10" font-weight="normal" fill="#000" textLength="16.50" lengthAdjust="spacingAndGlyphs">Tad</text>
<line x1="306.00" y1="515.20" x2="333.70" y2="515.20" stroke="#000" stroke-width="1.0"/>
<line x1="341.50" y1="515.20" x2="366.80" y2="515.20" stroke="#000" stroke-width="1.0"/>
<line x1="372.70" y1="515.20" x2="399.90" y2="515.20" stroke="#000" stroke-width="1.0"/>
<text transform="translate(316.40,543.80) rotate(-90)" x="0" y="0" font-size="10" font-weight="normal" fill="#000" textLength="27.00" lengthAdjust="spacingAndGlyphs">Memb</text>
<text transform="translate(331.60,543.80) rotate(-90)" x="0" y="0" font-size="10" font-weight="normal" fill="#000" textLength="21.80" lengthAdjust="spacingAndGlyphs">Cyto</text>
<text transform="translate(349.30,543.80) rotate(-90)" x="0" y="0" font-size="10" font-weight="normal" fill="#000" textLength="27.00" lengthAdjust="spacingAndGlyphs">Memb</text>
<text transform="translate(365.90,543.80) rotate(-90)" x="0" y="0" font-size="10" font-weight="normal" fill="#000" textLength="21.80" lengthAdjust="spacingAndGlyphs">Cyto</text>
<text transform="translate(382.40,543.80) rotate(-90)" x="0" y="0" font-size="10" font-weight="normal" fill="#000" textLength="27.00" lengthAdjust="spacingAndGlyphs">Memb</text>
<text transform="translate(399.00,543.80) rotate(-90)" x="0" y="0" font-size="10" font-weight="normal" fill="#000" textLength="21.80" lengthAdjust="spacingAndGlyphs">Cyto</text>
<rect x="304.30" y="545.20" width="102.00" height="26.40" fill="#48aef0"/>
<defs><filter id="bb" x="-20%" y="-100%" width="140%" height="300%"><feGaussianBlur stdDeviation="0.7"/></filter></defs>
<g filter="url(#bb)">
<rect x="308.4" y="557.60" width="10.0" height="2.0" fill="#0a2c48" rx="1"/>
<rect x="323.6" y="556.40" width="12.399999999999977" height="4.4" fill="#000" rx="1"/>
<rect x="341.0" y="557.80" width="10.0" height="1.6" fill="#22618f" rx="1"/>
<rect x="356.4" y="556.40" width="12.600000000000023" height="4.4" fill="#000" rx="1"/>
<rect x="374.0" y="557.70" width="10.0" height="1.8" fill="#1a4c75" rx="1"/>
<rect x="389.0" y="556.30" width="12.0" height="4.6" fill="#000" rx="1"/>
</g>
<rect x="304.30" y="572.30" width="102.00" height="21.00" fill="#f6cadb"/>
<g filter="url(#bb)">
<rect x="321.6" y="577.8" width="14.4" height="2.6" fill="#f0307f"/>
<rect x="354.4" y="577.8" width="14.0" height="2.6" fill="#f0307f"/>
<rect x="387.6" y="577.8" width="14.0" height="2.6" fill="#f0307f"/>
</g>
<rect x="304.3" y="545.2" width="102" height="26.4" fill="none" stroke="#000" stroke-width="1.4"/>
<rect x="304.3" y="572.3" width="102" height="21" fill="none" stroke="#000" stroke-width="1.2"/>
<text x="275.50" y="563.60" font-size="13" font-weight="bold" fill="#000" textLength="26.70" lengthAdjust="spacingAndGlyphs">11A4</text>
<text x="286.90" y="584.20" font-size="13" font-weight="bold" fill="#000" textLength="14.50" lengthAdjust="spacingAndGlyphs">PS</text>
<line x1="464.25" y1="574.36" x2="464.25" y2="563.75" stroke="#000" stroke-width="1.0"/>
<line x1="462.65" y1="563.75" x2="465.85" y2="563.75" stroke="#000" stroke-width="1.0"/>
<rect x="459.20" y="574.36" width="10.10" height="42.44" fill="#fff" stroke="#000" stroke-width="1.2"/>
<line x1="478.05" y1="543.11" x2="478.05" y2="531.91" stroke="#000" stroke-width="1.0"/>
<line x1="476.45" y1="531.91" x2="479.65" y2="531.91" stroke="#000" stroke-width="1.0"/>
<rect x="473.00" y="543.11" width="10.10" height="73.69" fill="#fff" stroke="#000" stroke-width="1.2"/>
<line x1="492.30" y1="536.04" x2="492.30" y2="527.20" stroke="#000" stroke-width="1.0"/>
<line x1="490.70" y1="527.20" x2="493.90" y2="527.20" stroke="#000" stroke-width="1.0"/>
<rect x="487.20" y="536.04" width="10.20" height="80.76" fill="#fff" stroke="#000" stroke-width="1.2"/>
<line x1="452.10" y1="498.30" x2="452.10" y2="617.40" stroke="#000" stroke-width="1.3"/>
<line x1="449.50" y1="616.80" x2="505.00" y2="616.80" stroke="#000" stroke-width="1.3"/>
<line x1="449.50" y1="616.80" x2="452.10" y2="616.80" stroke="#000" stroke-width="1.1"/>
<text x="445.50" y="618.47" font-size="7.6" fill="#444" text-anchor="middle">0</text>
<line x1="449.50" y1="593.22" x2="452.10" y2="593.22" stroke="#000" stroke-width="1.1"/>
<text x="445.50" y="594.89" font-size="7.6" fill="#444" text-anchor="middle">2</text>
<line x1="449.50" y1="569.64" x2="452.10" y2="569.64" stroke="#000" stroke-width="1.1"/>
<text x="445.50" y="571.31" font-size="7.6" fill="#444" text-anchor="middle">4</text>
<line x1="449.50" y1="546.06" x2="452.10" y2="546.06" stroke="#000" stroke-width="1.1"/>
<text x="445.50" y="547.73" font-size="7.6" fill="#444" text-anchor="middle">6</text>
<line x1="449.50" y1="522.48" x2="452.10" y2="522.48" stroke="#000" stroke-width="1.1"/>
<text x="445.50" y="524.15" font-size="7.6" fill="#444" text-anchor="middle">8</text>
<line x1="449.50" y1="498.90" x2="452.10" y2="498.90" stroke="#000" stroke-width="1.1"/>
<text x="445.50" y="500.57" font-size="7.6" fill="#444" text-anchor="middle">10</text>
<circle cx="464.60" cy="553.70" r="2.0" fill="#ffffff" stroke="#111" stroke-width="0.75"/>
<circle cx="462.70" cy="584.50" r="2.0" fill="#ffffff" stroke="#111" stroke-width="0.75"/>
<circle cx="464.60" cy="583.20" r="2.0" fill="#ffffff" stroke="#111" stroke-width="0.75"/>
<circle cx="479.00" cy="524.40" r="2.0" fill="#ffffff" stroke="#111" stroke-width="0.75"/>
<circle cx="476.40" cy="536.30" r="2.0" fill="#ffffff" stroke="#111" stroke-width="0.75"/>
<circle cx="479.00" cy="550.40" r="2.0" fill="#ffffff" stroke="#111" stroke-width="0.75"/>
<circle cx="479.00" cy="558.60" r="2.0" fill="#ffffff" stroke="#111" stroke-width="0.75"/>
<circle cx="492.20" cy="513.50" r="2.0" fill="#ffffff" stroke="#111" stroke-width="0.75"/>
<circle cx="494.10" cy="538.20" r="2.0" fill="#ffffff" stroke="#111" stroke-width="0.75"/>
<circle cx="491.40" cy="535.40" r="2.0" fill="#ffffff" stroke="#111" stroke-width="0.75"/>
<circle cx="493.30" cy="555.10" r="2.0" fill="#ffffff" stroke="#111" stroke-width="0.75"/>
<text x="478.80" y="527.10" font-size="17.5" font-weight="bold" text-anchor="middle" fill="#000">*</text>
<text x="491.50" y="512.50" font-size="17.5" font-weight="bold" text-anchor="middle" fill="#000">*</text>
<text x="451.30" y="626.60" font-size="10" font-weight="normal" fill="#000" textLength="19.10" lengthAdjust="spacingAndGlyphs">Veh</text>
<text x="471.40" y="626.60" font-size="10" font-weight="normal" fill="#000" textLength="13.60" lengthAdjust="spacingAndGlyphs">BC</text>
<text x="486.70" y="626.60" font-size="10" font-weight="normal" fill="#000" textLength="16.90" lengthAdjust="spacingAndGlyphs">Tad</text>
<text transform="translate(430.00,600.80) rotate(-90)" x="0" y="0" font-size="10.3" font-weight="bold" fill="#000" textLength="80.70" lengthAdjust="spacingAndGlyphs">mPDE11A4 ratio</text>
<text transform="translate(440.20,613.70) rotate(-90)" x="0" y="0" font-size="10.3" font-weight="bold" fill="#000" textLength="102.20" lengthAdjust="spacingAndGlyphs">cytosolic:membrane</text>
<text x="415.00" y="500.80" font-size="12.3" font-weight="bold" fill="#000" textLength="17.50" lengthAdjust="spacingAndGlyphs">(O)</text>
<line x1="73.35" y1="704.32" x2="73.35" y2="700.67" stroke="#000" stroke-width="1.0"/>
<line x1="71.75" y1="700.67" x2="74.95" y2="700.67" stroke="#000" stroke-width="1.0"/>
<rect x="68.10" y="704.32" width="10.50" height="85.68" fill="#fff" stroke="#000" stroke-width="1.2"/>
<line x1="87.75" y1="698.48" x2="87.75" y2="696.05" stroke="#000" stroke-width="1.0"/>
<line x1="86.15" y1="696.05" x2="89.35" y2="696.05" stroke="#000" stroke-width="1.0"/>
<rect x="82.30" y="698.48" width="10.90" height="91.52" fill="#fff" stroke="#000" stroke-width="1.2"/>
<line x1="101.95" y1="696.41" x2="101.95" y2="695.20" stroke="#000" stroke-width="1.0"/>
<line x1="100.35" y1="695.20" x2="103.55" y2="695.20" stroke="#000" stroke-width="1.0"/>
<rect x="96.50" y="696.41" width="10.90" height="93.59" fill="#fff" stroke="#000" stroke-width="1.2"/>
<line x1="115.95" y1="700.43" x2="115.95" y2="697.99" stroke="#000" stroke-width="1.0"/>
<line x1="114.35" y1="697.99" x2="117.55" y2="697.99" stroke="#000" stroke-width="1.0"/>
<rect x="110.50" y="700.43" width="10.90" height="89.57" fill="#fff" stroke="#000" stroke-width="1.2"/>
<line x1="130.00" y1="697.99" x2="130.00" y2="694.34" stroke="#000" stroke-width="1.0"/>
<line x1="128.40" y1="694.34" x2="131.60" y2="694.34" stroke="#000" stroke-width="1.0"/>
<rect x="125.00" y="697.99" width="10.00" height="92.01" fill="#fff" stroke="#000" stroke-width="1.2"/>
<line x1="61.00" y1="667.70" x2="61.00" y2="790.60" stroke="#000" stroke-width="1.3"/>
<line x1="58.40" y1="790.00" x2="145.90" y2="790.00" stroke="#000" stroke-width="1.3"/>
<line x1="58.40" y1="790.00" x2="61.00" y2="790.00" stroke="#000" stroke-width="1.1"/>
<text x="50.20" y="791.68" font-size="8.4" fill="#333" text-anchor="middle">0</text>
<line x1="58.40" y1="765.66" x2="61.00" y2="765.66" stroke="#000" stroke-width="1.1"/>
<text x="50.20" y="767.34" font-size="8.4" fill="#333" text-anchor="middle">20</text>
<line x1="58.40" y1="741.32" x2="61.00" y2="741.32" stroke="#000" stroke-width="1.1"/>
<text x="50.20" y="743.00" font-size="8.4" fill="#333" text-anchor="middle">40</text>
<line x1="58.40" y1="716.98" x2="61.00" y2="716.98" stroke="#000" stroke-width="1.1"/>
<text x="50.20" y="718.66" font-size="8.4" fill="#333" text-anchor="middle">60</text>
<line x1="58.40" y1="692.64" x2="61.00" y2="692.64" stroke="#000" stroke-width="1.1"/>
<text x="50.20" y="694.32" font-size="8.4" fill="#333" text-anchor="middle">80</text>
<line x1="58.40" y1="668.30" x2="61.00" y2="668.30" stroke="#000" stroke-width="1.1"/>
<text x="50.20" y="669.98" font-size="8.4" fill="#333" text-anchor="middle">100</text>
<circle cx="73.10" cy="690.50" r="1.95" fill="#f5a050" stroke="#111" stroke-width="0.75"/>
<circle cx="76.40" cy="700.50" r="1.95" fill="#f5a050" stroke="#111" stroke-width="0.75"/>
<circle cx="73.10" cy="707.60" r="1.95" fill="#f5a050" stroke="#111" stroke-width="0.75"/>
<circle cx="76.40" cy="710.40" r="1.95" fill="#f5a050" stroke="#111" stroke-width="0.75"/>
<circle cx="85.90" cy="691.80" r="1.95" fill="#ffffff" stroke="#111" stroke-width="0.75"/>
<circle cx="90.00" cy="694.50" r="1.95" fill="#ffffff" stroke="#111" stroke-width="0.75"/>
<circle cx="86.70" cy="698.60" r="1.95" fill="#ffffff" stroke="#111" stroke-width="0.75"/>
<circle cx="88.60" cy="701.40" r="1.95" fill="#ffffff" stroke="#111" stroke-width="0.75"/>
<circle cx="100.40" cy="694.00" r="1.95" fill="#e01010" stroke="#111" stroke-width="0.75"/>
<circle cx="103.60" cy="692.40" r="1.95" fill="#e01010" stroke="#111" stroke-width="0.75"/>
<circle cx="101.40" cy="696.70" r="1.95" fill="#e01010" stroke="#111" stroke-width="0.75"/>
<circle cx="105.00" cy="696.70" r="1.95" fill="#e01010" stroke="#111" stroke-width="0.75"/>
<circle cx="117.30" cy="694.00" r="1.95" fill="#10d010" stroke="#111" stroke-width="0.75"/>
<circle cx="114.50" cy="698.60" r="1.95" fill="#10d010" stroke="#111" stroke-width="0.75"/>
<circle cx="118.60" cy="700.50" r="1.95" fill="#10d010" stroke="#111" stroke-width="0.75"/>
<circle cx="115.90" cy="703.30" r="1.95" fill="#10d010" stroke="#111" stroke-width="0.75"/>
<circle cx="130.90" cy="689.10" r="1.95" fill="#ffff10" stroke="#111" stroke-width="0.75"/>
<circle cx="133.60" cy="694.50" r="1.95" fill="#ffff10" stroke="#111" stroke-width="0.75"/>
<circle cx="129.50" cy="702.70" r="1.95" fill="#ffff10" stroke="#111" stroke-width="0.75"/>
<circle cx="132.30" cy="706.80" r="1.95" fill="#ffff10" stroke="#111" stroke-width="0.75"/>
<text x="74.40" y="800.00" font-size="8.6" fill="#000" text-anchor="middle">0</text>
<text x="88.60" y="800.00" font-size="8.6" fill="#000" text-anchor="middle">0.1</text>
<text x="103.20" y="800.00" font-size="8.6" fill="#000" text-anchor="middle">1</text>
<text x="117.80" y="800.00" font-size="8.6" fill="#000" text-anchor="middle">10</text>
<text x="131.40" y="800.00" font-size="8.6" fill="#000" text-anchor="middle">100</text>
<text x="76.50" y="811.60" font-size="10" font-weight="bold" fill="#000" textLength="53.00" lengthAdjust="spacingAndGlyphs">8-Br-cAMPs</text>
<text x="94.10" y="821.40" font-size="10" font-weight="bold" fill="#000" textLength="18.70" lengthAdjust="spacingAndGlyphs">(µM)</text>
<text transform="translate(32.30,781.90) rotate(-90)" x="0" y="0" font-size="10.5" font-weight="bold" fill="#000" textLength="102.10" lengthAdjust="spacingAndGlyphs">%Labelled Cells with</text>
<text transform="translate(43.50,770.60) rotate(-90)" x="0" y="0" font-size="10.5" font-weight="bold" fill="#000" textLength="78.10" lengthAdjust="spacingAndGlyphs">PDE11A4 LLPS</text>
<text x="23.00" y="669.90" font-size="12.3" font-weight="bold" fill="#000" textLength="17.20" lengthAdjust="spacingAndGlyphs">(P)</text>
<line x1="208.60" y1="692.23" x2="208.60" y2="687.97" stroke="#000" stroke-width="1.0"/>
<line x1="207.00" y1="687.97" x2="210.20" y2="687.97" stroke="#000" stroke-width="1.0"/>
<rect x="203.60" y="692.23" width="10.00" height="96.87" fill="#fff" stroke="#000" stroke-width="1.2"/>
<line x1="222.90" y1="688.58" x2="222.90" y2="686.75" stroke="#000" stroke-width="1.0"/>
<line x1="221.30" y1="686.75" x2="224.50" y2="686.75" stroke="#000" stroke-width="1.0"/>
<rect x="217.60" y="688.58" width="10.60" height="100.52" fill="#fff" stroke="#000" stroke-width="1.2"/>
<line x1="237.45" y1="691.37" x2="237.45" y2="690.16" stroke="#000" stroke-width="1.0"/>
<line x1="235.85" y1="690.16" x2="239.05" y2="690.16" stroke="#000" stroke-width="1.0"/>
<rect x="232.20" y="691.37" width="10.50" height="97.73" fill="#fff" stroke="#000" stroke-width="1.2"/>
<line x1="251.40" y1="691.98" x2="251.40" y2="690.16" stroke="#000" stroke-width="1.0"/>
<line x1="249.80" y1="690.16" x2="253.00" y2="690.16" stroke="#000" stroke-width="1.0"/>
<rect x="246.40" y="691.98" width="10.00" height="97.12" fill="#fff" stroke="#000" stroke-width="1.2"/>
<line x1="265.00" y1="693.32" x2="265.00" y2="691.50" stroke="#000" stroke-width="1.0"/>
<line x1="263.40" y1="691.50" x2="266.60" y2="691.50" stroke="#000" stroke-width="1.0"/>
<rect x="260.00" y="693.32" width="10.00" height="95.78" fill="#fff" stroke="#000" stroke-width="1.2"/>
<line x1="195.70" y1="666.80" x2="195.70" y2="789.70" stroke="#000" stroke-width="1.3"/>
<line x1="193.10" y1="789.10" x2="275.50" y2="789.10" stroke="#000" stroke-width="1.3"/>
<line x1="193.10" y1="789.10" x2="195.70" y2="789.10" stroke="#000" stroke-width="1.1"/>
<text x="185.70" y="790.78" font-size="8.4" fill="#333" text-anchor="middle">0</text>
<line x1="193.10" y1="764.76" x2="195.70" y2="764.76" stroke="#000" stroke-width="1.1"/>
<text x="185.70" y="766.44" font-size="8.4" fill="#333" text-anchor="middle">20</text>
<line x1="193.10" y1="740.42" x2="195.70" y2="740.42" stroke="#000" stroke-width="1.1"/>
<text x="185.70" y="742.10" font-size="8.4" fill="#333" text-anchor="middle">40</text>
<line x1="193.10" y1="716.08" x2="195.70" y2="716.08" stroke="#000" stroke-width="1.1"/>
<text x="185.70" y="717.76" font-size="8.4" fill="#333" text-anchor="middle">60</text>
<line x1="193.10" y1="691.74" x2="195.70" y2="691.74" stroke="#000" stroke-width="1.1"/>
<text x="185.70" y="693.42" font-size="8.4" fill="#333" text-anchor="middle">80</text>
<line x1="193.10" y1="667.40" x2="195.70" y2="667.40" stroke="#000" stroke-width="1.1"/>
<text x="185.70" y="669.08" font-size="8.4" fill="#333" text-anchor="middle">100</text>
<circle cx="208.50" cy="684.10" r="1.95" fill="#f5a050" stroke="#111" stroke-width="0.75"/>
<circle cx="210.60" cy="686.30" r="1.95" fill="#f5a050" stroke="#111" stroke-width="0.75"/>
<circle cx="209.10" cy="697.80" r="1.95" fill="#f5a050" stroke="#111" stroke-width="0.75"/>
<circle cx="208.50" cy="702.20" r="1.95" fill="#f5a050" stroke="#111" stroke-width="0.75"/>
<circle cx="221.40" cy="683.10" r="1.95" fill="#ffffff" stroke="#111" stroke-width="0.75"/>
<circle cx="225.40" cy="684.20" r="1.95" fill="#ffffff" stroke="#111" stroke-width="0.75"/>
<circle cx="222.70" cy="690.50" r="1.95" fill="#ffffff" stroke="#111" stroke-width="0.75"/>
<circle cx="226.00" cy="693.20" r="1.95" fill="#ffffff" stroke="#111" stroke-width="0.75"/>
<circle cx="234.20" cy="688.50" r="1.95" fill="#e01010" stroke="#111" stroke-width="0.75"/>
<circle cx="237.70" cy="689.60" r="1.95" fill="#e01010" stroke="#111" stroke-width="0.75"/>
<circle cx="240.40" cy="691.80" r="1.95" fill="#e01010" stroke="#111" stroke-width="0.75"/>
<circle cx="236.90" cy="695.90" r="1.95" fill="#e01010" stroke="#111" stroke-width="0.75"/>
<circle cx="252.70" cy="683.60" r="1.95" fill="#10d010" stroke="#111" stroke-width="0.75"/>
<circle cx="250.00" cy="694.00" r="1.95" fill="#10d010" stroke="#111" stroke-width="0.75"/>
<circle cx="254.90" cy="694.00" r="1.95" fill="#10d010" stroke="#111" stroke-width="0.75"/>
<circle cx="251.40" cy="690.50" r="1.95" fill="#10d010" stroke="#111" stroke-width="0.75"/>
<circle cx="263.60" cy="689.10" r="1.95" fill="#ffff10" stroke="#111" stroke-width="0.75"/>
<circle cx="269.10" cy="694.00" r="1.95" fill="#ffff10" stroke="#111" stroke-width="0.75"/>
<circle cx="265.00" cy="694.00" r="1.95" fill="#ffff10" stroke="#111" stroke-width="0.75"/>
<circle cx="266.40" cy="703.30" r="1.95" fill="#ffff10" stroke="#111" stroke-width="0.75"/>
<text x="208.20" y="799.10" font-size="8.6" fill="#000" text-anchor="middle">0</text>
<text x="223.60" y="799.10" font-size="8.6" fill="#000" text-anchor="middle">0.1</text>
<text x="238.20" y="799.10" font-size="8.6" fill="#000" text-anchor="middle">1</text>
<text x="252.70" y="799.10" font-size="8.6" fill="#000" text-anchor="middle">10</text>
<text x="266.80" y="799.10" font-size="8.6" fill="#000" text-anchor="middle">100</text>
<text x="210.40" y="810.40" font-size="10" font-weight="bold" fill="#000" textLength="56.90" lengthAdjust="spacingAndGlyphs">8-Br-cGMPs</text>
<text x="229.10" y="820.80" font-size="10" font-weight="bold" fill="#000" textLength="20.00" lengthAdjust="spacingAndGlyphs">(µM)</text>
<text transform="translate(166.70,781.20) rotate(-90)" x="0" y="0" font-size="10.5" font-weight="bold" fill="#000" textLength="102.20" lengthAdjust="spacingAndGlyphs">%Labelled Cells with</text>
<text transform="translate(178.50,769.90) rotate(-90)" x="0" y="0" font-size="10.5" font-weight="bold" fill="#000" textLength="77.40" lengthAdjust="spacingAndGlyphs">PDE11A4 LLPS</text>
<text x="158.60" y="670.20" font-size="12.3" font-weight="bold" fill="#000" textLength="19.10" lengthAdjust="spacingAndGlyphs">(Q)</text>
<line x1="347.10" y1="724.10" x2="347.10" y2="719.30" stroke="#000" stroke-width="1.0"/>
<line x1="345.50" y1="719.30" x2="348.70" y2="719.30" stroke="#000" stroke-width="1.0"/>
<rect x="341.80" y="724.10" width="10.60" height="64.90" fill="#fff" stroke="#000" stroke-width="1.2"/>
<line x1="357.40" y1="765.50" x2="357.40" y2="763.50" stroke="#000" stroke-width="1.0"/>
<line x1="355.80" y1="763.50" x2="359.00" y2="763.50" stroke="#000" stroke-width="1.0"/>
<rect x="352.40" y="765.50" width="10.00" height="23.50" fill="#fff" stroke="#000" stroke-width="1.2"/>
<line x1="367.65" y1="767.10" x2="367.65" y2="763.00" stroke="#000" stroke-width="1.0"/>
<line x1="366.05" y1="763.00" x2="369.25" y2="763.00" stroke="#000" stroke-width="1.0"/>
<rect x="362.40" y="767.10" width="10.50" height="21.90" fill="#fff" stroke="#000" stroke-width="1.2"/>
<line x1="387.25" y1="716.40" x2="387.25" y2="713.50" stroke="#000" stroke-width="1.0"/>
<line x1="385.65" y1="713.50" x2="388.85" y2="713.50" stroke="#000" stroke-width="1.0"/>
<rect x="382.00" y="716.40" width="10.50" height="72.60" fill="#d2d2d2" stroke="#000" stroke-width="1.2"/>
<line x1="397.25" y1="764.60" x2="397.25" y2="761.00" stroke="#000" stroke-width="1.0"/>
<line x1="395.65" y1="761.00" x2="398.85" y2="761.00" stroke="#000" stroke-width="1.0"/>
<rect x="392.50" y="764.60" width="9.50" height="24.40" fill="#d2d2d2" stroke="#000" stroke-width="1.2"/>
<line x1="407.05" y1="766.30" x2="407.05" y2="764.50" stroke="#000" stroke-width="1.0"/>
<line x1="405.45" y1="764.50" x2="408.65" y2="764.50" stroke="#000" stroke-width="1.0"/>
<rect x="402.00" y="766.30" width="10.10" height="22.70" fill="#d2d2d2" stroke="#000" stroke-width="1.2"/>
<line x1="336.70" y1="666.00" x2="336.70" y2="789.60" stroke="#000" stroke-width="1.3"/>
<line x1="334.10" y1="789.00" x2="417.30" y2="789.00" stroke="#000" stroke-width="1.3"/>
<line x1="334.10" y1="789.00" x2="336.70" y2="789.00" stroke="#000" stroke-width="1.1"/>
<text x="334.10" y="792.78" font-size="8.4" fill="#333" text-anchor="end">0</text>
<line x1="334.10" y1="764.52" x2="336.70" y2="764.52" stroke="#000" stroke-width="1.1"/>
<text x="334.10" y="768.30" font-size="8.4" fill="#333" text-anchor="end">20</text>
<line x1="334.10" y1="740.04" x2="336.70" y2="740.04" stroke="#000" stroke-width="1.1"/>
<text x="334.10" y="743.82" font-size="8.4" fill="#333" text-anchor="end">40</text>
<line x1="334.10" y1="715.56" x2="336.70" y2="715.56" stroke="#000" stroke-width="1.1"/>
<text x="334.10" y="719.34" font-size="8.4" fill="#333" text-anchor="end">60</text>
<line x1="334.10" y1="691.08" x2="336.70" y2="691.08" stroke="#000" stroke-width="1.1"/>
<text x="334.10" y="694.86" font-size="8.4" fill="#333" text-anchor="end">80</text>
<line x1="334.10" y1="666.60" x2="336.70" y2="666.60" stroke="#000" stroke-width="1.1"/>
<text x="334.10" y="670.38" font-size="8.4" fill="#333" text-anchor="end">100</text>
<circle cx="347.70" cy="706.90" r="1.95" fill="#f5a050" stroke="#111" stroke-width="0.75"/>
<circle cx="347.70" cy="711.10" r="1.95" fill="#f5a050" stroke="#111" stroke-width="0.75"/>
<circle cx="347.20" cy="732.70" r="1.95" fill="#f5a050" stroke="#111" stroke-width="0.75"/>
<circle cx="347.70" cy="745.00" r="1.95" fill="#f5a050" stroke="#111" stroke-width="0.75"/>
<circle cx="355.40" cy="763.00" r="1.95" fill="#10d010" stroke="#111" stroke-width="0.75"/>
<circle cx="359.10" cy="764.60" r="1.95" fill="#10d010" stroke="#111" stroke-width="0.75"/>
<circle cx="359.80" cy="767.90" r="1.95" fill="#10d010" stroke="#111" stroke-width="0.75"/>
<circle cx="357.80" cy="770.70" r="1.95" fill="#10d010" stroke="#111" stroke-width="0.75"/>
<circle cx="366.00" cy="762.20" r="1.95" fill="#ffff10" stroke="#111" stroke-width="0.75"/>
<circle cx="370.60" cy="763.00" r="1.95" fill="#ffff10" stroke="#111" stroke-width="0.75"/>
<circle cx="367.60" cy="770.00" r="1.95" fill="#ffff10" stroke="#111" stroke-width="0.75"/>
<circle cx="368.00" cy="773.60" r="1.95" fill="#ffff10" stroke="#111" stroke-width="0.75"/>
<circle cx="387.30" cy="709.00" r="1.95" fill="#f5a050" stroke="#111" stroke-width="0.75"/>
<circle cx="384.00" cy="714.70" r="1.95" fill="#f5a050" stroke="#111" stroke-width="0.75"/>
<circle cx="388.90" cy="715.00" r="1.95" fill="#f5a050" stroke="#111" stroke-width="0.75"/>
<circle cx="387.30" cy="727.00" r="1.95" fill="#f5a050" stroke="#111" stroke-width="0.75"/>
<circle cx="397.40" cy="755.60" r="1.95" fill="#10d010" stroke="#111" stroke-width="0.75"/>
<circle cx="399.50" cy="759.20" r="1.95" fill="#10d010" stroke="#111" stroke-width="0.75"/>
<circle cx="395.50" cy="761.40" r="1.95" fill="#10d010" stroke="#111" stroke-width="0.75"/>
<circle cx="397.40" cy="779.70" r="1.95" fill="#10d010" stroke="#111" stroke-width="0.75"/>
<circle cx="405.00" cy="763.00" r="1.95" fill="#ffff10" stroke="#111" stroke-width="0.75"/>
<circle cx="408.20" cy="763.80" r="1.95" fill="#ffff10" stroke="#111" stroke-width="0.75"/>
<circle cx="410.70" cy="766.80" r="1.95" fill="#ffff10" stroke="#111" stroke-width="0.75"/>
<circle cx="405.60" cy="764.60" r="1.95" fill="#ffff10" stroke="#111" stroke-width="0.75"/>
<text x="357.00" y="765.66" font-size="15.5" font-weight="bold" text-anchor="middle" fill="#000">*</text>
<text x="367.60" y="764.86" font-size="15.5" font-weight="bold" text-anchor="middle" fill="#000">*</text>
<text x="397.10" y="756.86" font-size="15.5" font-weight="bold" text-anchor="middle" fill="#000">*</text>
<text x="408.50" y="764.56" font-size="15.5" font-weight="bold" text-anchor="middle" fill="#000">*</text>
<circle cx="341.80" cy="669.10" r="2.1" fill="#f5a050" stroke="#111" stroke-width="0.75"/>
<text x="345.90" y="671.70" font-size="7.4" font-weight="normal" fill="#222" textLength="21.90" lengthAdjust="spacingAndGlyphs">vehicle</text>
<circle cx="341.80" cy="675.20" r="2.1" fill="#10d010" stroke="#111" stroke-width="0.75"/>
<text x="345.90" y="677.80" font-size="7.4" font-weight="normal" fill="#222" textLength="47.40" lengthAdjust="spacingAndGlyphs">10uM Tadalafil</text>
<circle cx="341.80" cy="681.40" r="2.1" fill="#ffff10" stroke="#111" stroke-width="0.75"/>
<text x="345.90" y="684.00" font-size="7.4" font-weight="normal" fill="#222" textLength="49.90" lengthAdjust="spacingAndGlyphs">100uM BC1138</text>
<text x="349.00" y="797.60" font-size="8.3" font-weight="normal" fill="#222" textLength="14.30" lengthAdjust="spacingAndGlyphs">0uM</text>
<text x="388.20" y="797.60" font-size="8.3" font-weight="normal" fill="#222" textLength="23.60" lengthAdjust="spacingAndGlyphs">100uM</text>
<text x="345.10" y="808.10" font-size="9.4" font-weight="bold" fill="#000" textLength="68.40" lengthAdjust="spacingAndGlyphs">Rp-8-Br-cAMPs</text>
<text x="369.80" y="818.80" font-size="9" font-weight="bold" fill="#000" textLength="18.20" lengthAdjust="spacingAndGlyphs">(µM)</text>
<text transform="translate(310.40,776.80) rotate(-90)" x="0" y="0" font-size="10.5" font-weight="bold" fill="#000" textLength="92.70" lengthAdjust="spacingAndGlyphs">%Labelled Cells with</text>
<text transform="translate(320.80,762.30) rotate(-90)" x="0" y="0" font-size="10.5" font-weight="bold" fill="#000" textLength="68.50" lengthAdjust="spacingAndGlyphs">PDE11A4 LLPS</text>
<text x="300.70" y="673.40" font-size="12.3" font-weight="bold" fill="#000" textLength="18.20" lengthAdjust="spacingAndGlyphs">(R)</text>
<line x1="467.55" y1="749.50" x2="467.55" y2="745.50" stroke="#000" stroke-width="1.0"/>
<line x1="465.95" y1="745.50" x2="469.15" y2="745.50" stroke="#000" stroke-width="1.0"/>
<rect x="462.40" y="749.50" width="10.30" height="40.10" fill="#fff" stroke="#000" stroke-width="1.2"/>
<line x1="477.70" y1="777.20" x2="477.70" y2="775.50" stroke="#000" stroke-width="1.0"/>
<line x1="476.10" y1="775.50" x2="479.30" y2="775.50" stroke="#000" stroke-width="1.0"/>
<rect x="472.70" y="777.20" width="10.00" height="12.40" fill="#fff" stroke="#000" stroke-width="1.2"/>
<line x1="487.70" y1="776.50" x2="487.70" y2="774.50" stroke="#000" stroke-width="1.0"/>
<line x1="486.10" y1="774.50" x2="489.30" y2="774.50" stroke="#000" stroke-width="1.0"/>
<rect x="482.70" y="776.50" width="10.00" height="13.10" fill="#fff" stroke="#000" stroke-width="1.2"/>
<line x1="506.65" y1="747.40" x2="506.65" y2="745.00" stroke="#000" stroke-width="1.0"/>
<line x1="505.05" y1="745.00" x2="508.25" y2="745.00" stroke="#000" stroke-width="1.0"/>
<rect x="501.50" y="747.40" width="10.30" height="42.20" fill="#d2d2d2" stroke="#000" stroke-width="1.2"/>
<line x1="516.80" y1="778.60" x2="516.80" y2="776.00" stroke="#000" stroke-width="1.0"/>
<line x1="515.20" y1="776.00" x2="518.40" y2="776.00" stroke="#000" stroke-width="1.0"/>
<rect x="511.80" y="778.60" width="10.00" height="11.00" fill="#d2d2d2" stroke="#000" stroke-width="1.2"/>
<line x1="526.80" y1="777.20" x2="526.80" y2="775.00" stroke="#000" stroke-width="1.0"/>
<line x1="525.20" y1="775.00" x2="528.40" y2="775.00" stroke="#000" stroke-width="1.0"/>
<rect x="521.80" y="777.20" width="10.00" height="12.40" fill="#d2d2d2" stroke="#000" stroke-width="1.2"/>
<line x1="457.00" y1="666.80" x2="457.00" y2="790.20" stroke="#000" stroke-width="1.3"/>
<line x1="454.40" y1="789.60" x2="545.00" y2="789.60" stroke="#000" stroke-width="1.3"/>
<line x1="454.40" y1="789.60" x2="457.00" y2="789.60" stroke="#000" stroke-width="1.1"/>
<text x="454.20" y="793.38" font-size="8.4" fill="#333" text-anchor="end">0</text>
<line x1="454.40" y1="765.16" x2="457.00" y2="765.16" stroke="#000" stroke-width="1.1"/>
<text x="454.20" y="768.94" font-size="8.4" fill="#333" text-anchor="end">20</text>
<line x1="454.40" y1="740.72" x2="457.00" y2="740.72" stroke="#000" stroke-width="1.1"/>
<text x="454.20" y="744.50" font-size="8.4" fill="#333" text-anchor="end">40</text>
<line x1="454.40" y1="716.28" x2="457.00" y2="716.28" stroke="#000" stroke-width="1.1"/>
<text x="454.20" y="720.06" font-size="8.4" fill="#333" text-anchor="end">60</text>
<line x1="454.40" y1="691.84" x2="457.00" y2="691.84" stroke="#000" stroke-width="1.1"/>
<text x="454.20" y="695.62" font-size="8.4" fill="#333" text-anchor="end">80</text>
<line x1="454.40" y1="667.40" x2="457.00" y2="667.40" stroke="#000" stroke-width="1.1"/>
<text x="454.20" y="671.18" font-size="8.4" fill="#333" text-anchor="end">100</text>
<circle cx="466.00" cy="742.30" r="1.95" fill="#f5a050" stroke="#111" stroke-width="0.75"/>
<circle cx="469.60" cy="743.70" r="1.95" fill="#f5a050" stroke="#111" stroke-width="0.75"/>
<circle cx="467.30" cy="753.20" r="1.95" fill="#f5a050" stroke="#111" stroke-width="0.75"/>
<circle cx="467.30" cy="758.60" r="1.95" fill="#f5a050" stroke="#111" stroke-width="0.75"/>
<circle cx="474.90" cy="777.10" r="1.95" fill="#10d010" stroke="#111" stroke-width="0.75"/>
<circle cx="480.00" cy="778.10" r="1.95" fill="#10d010" stroke="#111" stroke-width="0.75"/>
<circle cx="477.40" cy="784.00" r="1.95" fill="#10d010" stroke="#111" stroke-width="0.75"/>
<circle cx="474.90" cy="780.20" r="1.95" fill="#10d010" stroke="#111" stroke-width="0.75"/>
<circle cx="485.80" cy="773.00" r="1.95" fill="#ffff10" stroke="#111" stroke-width="0.75"/>
<circle cx="488.90" cy="776.90" r="1.95" fill="#ffff10" stroke="#111" stroke-width="0.75"/>
<circle cx="483.80" cy="778.90" r="1.95" fill="#ffff10" stroke="#111" stroke-width="0.75"/>
<circle cx="490.90" cy="777.10" r="1.95" fill="#ffff10" stroke="#111" stroke-width="0.75"/>
<circle cx="506.70" cy="742.00" r="1.95" fill="#f5a050" stroke="#111" stroke-width="0.75"/>
<circle cx="504.70" cy="746.60" r="1.95" fill="#f5a050" stroke="#111" stroke-width="0.75"/>
<circle cx="508.00" cy="749.10" r="1.95" fill="#f5a050" stroke="#111" stroke-width="0.75"/>
<circle cx="506.20" cy="749.60" r="1.95" fill="#f5a050" stroke="#111" stroke-width="0.75"/>
<circle cx="515.60" cy="777.10" r="1.95" fill="#10d010" stroke="#111" stroke-width="0.75"/>
<circle cx="519.40" cy="776.30" r="1.95" fill="#10d010" stroke="#111" stroke-width="0.75"/>
<circle cx="514.40" cy="782.20" r="1.95" fill="#10d010" stroke="#111" stroke-width="0.75"/>
<circle cx="518.20" cy="784.00" r="1.95" fill="#10d010" stroke="#111" stroke-width="0.75"/>
<circle cx="522.00" cy="775.10" r="1.95" fill="#ffff10" stroke="#111" stroke-width="0.75"/>
<circle cx="525.80" cy="777.10" r="1.95" fill="#ffff10" stroke="#111" stroke-width="0.75"/>
<circle cx="528.30" cy="774.60" r="1.95" fill="#ffff10" stroke="#111" stroke-width="0.75"/>
<circle cx="527.10" cy="780.20" r="1.95" fill="#ffff10" stroke="#111" stroke-width="0.75"/>
<text x="476.90" y="778.56" font-size="15.5" font-weight="bold" text-anchor="middle" fill="#000">*</text>
<text x="487.80" y="775.76" font-size="15.5" font-weight="bold" text-anchor="middle" fill="#000">*</text>
<text x="516.40" y="779.46" font-size="15.5" font-weight="bold" text-anchor="middle" fill="#000">*</text>
<text x="526.40" y="776.66" font-size="15.5" font-weight="bold" text-anchor="middle" fill="#000">*</text>
<circle cx="463.00" cy="668.40" r="2.1" fill="#f5a050" stroke="#111" stroke-width="0.75"/>
<text x="466.90" y="671.00" font-size="7.4" font-weight="normal" fill="#222" textLength="22.60" lengthAdjust="spacingAndGlyphs">vehicle</text>
<circle cx="463.00" cy="674.30" r="2.1" fill="#10d010" stroke="#111" stroke-width="0.75"/>
<text x="466.90" y="676.90" font-size="7.4" font-weight="normal" fill="#222" textLength="48.40" lengthAdjust="spacingAndGlyphs">10uM Tadalafil</text>
<circle cx="463.00" cy="680.90" r="2.1" fill="#ffff10" stroke="#111" stroke-width="0.75"/>
<text x="466.90" y="683.50" font-size="7.4" font-weight="normal" fill="#222" textLength="49.50" lengthAdjust="spacingAndGlyphs">100uM BC1138</text>
<text x="469.10" y="798.60" font-size="8.3" font-weight="normal" fill="#222" textLength="15.40" lengthAdjust="spacingAndGlyphs">0uM</text>
<text x="506.40" y="798.60" font-size="8.3" font-weight="normal" fill="#222" textLength="24.50" lengthAdjust="spacingAndGlyphs">100uM</text>
<text x="457.10" y="811.00" font-size="9.4" font-weight="bold" fill="#000" textLength="86.50" lengthAdjust="spacingAndGlyphs">Rp-8-pCPT-cGMPs</text>
<text x="488.90" y="820.80" font-size="9" font-weight="bold" fill="#000" textLength="19.10" lengthAdjust="spacingAndGlyphs">(µM)</text>
<text transform="translate(431.00,778.70) rotate(-90)" x="0" y="0" font-size="10.5" font-weight="bold" fill="#000" textLength="93.60" lengthAdjust="spacingAndGlyphs">%Labelled Cells with</text>
<text transform="translate(441.00,763.60) rotate(-90)" x="0" y="0" font-size="10.5" font-weight="bold" fill="#000" textLength="67.00" lengthAdjust="spacingAndGlyphs">PDE11A4 LLPS</text>
<text x="421.50" y="674.20" font-size="12.3" font-weight="bold" fill="#000" textLength="19.00" lengthAdjust="spacingAndGlyphs">(S)</text></svg></body></html>
